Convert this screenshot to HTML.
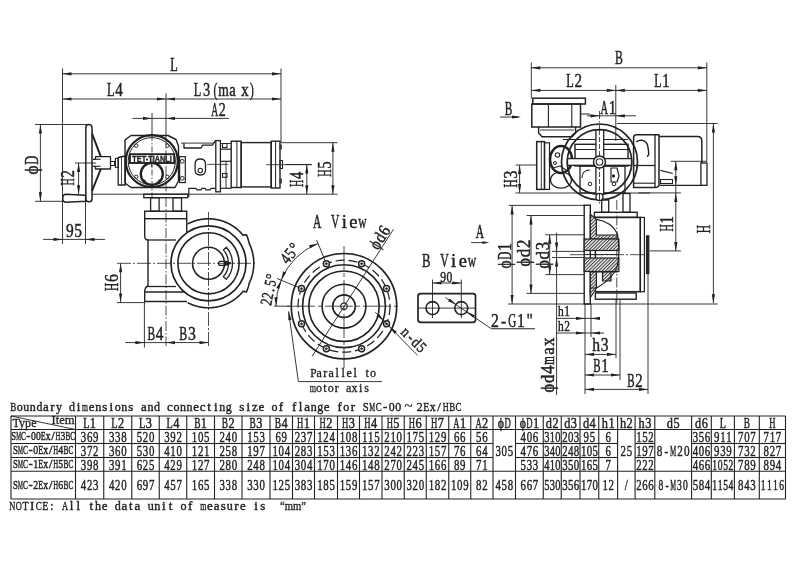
<!DOCTYPE html>
<html><head><meta charset="utf-8"><style>
html,body{margin:0;padding:0;background:#fff;width:800px;height:565px;overflow:hidden;}
svg{display:block;will-change:transform;}
</style></head><body>
<svg width="800" height="565" viewBox="0 0 800 565"><line x1="11.00" y1="416.00" x2="11.00" y2="499.00" stroke="#222" stroke-width="1.1"/>
<line x1="75.50" y1="416.00" x2="75.50" y2="499.00" stroke="#222" stroke-width="1.1"/>
<line x1="103.75" y1="416.00" x2="103.75" y2="499.00" stroke="#222" stroke-width="1.1"/>
<line x1="131.75" y1="416.00" x2="131.75" y2="499.00" stroke="#222" stroke-width="1.1"/>
<line x1="159.25" y1="416.00" x2="159.25" y2="499.00" stroke="#222" stroke-width="1.1"/>
<line x1="186.75" y1="416.00" x2="186.75" y2="499.00" stroke="#222" stroke-width="1.1"/>
<line x1="214.50" y1="416.00" x2="214.50" y2="499.00" stroke="#222" stroke-width="1.1"/>
<line x1="242.00" y1="416.00" x2="242.00" y2="499.00" stroke="#222" stroke-width="1.1"/>
<line x1="270.00" y1="416.00" x2="270.00" y2="499.00" stroke="#222" stroke-width="1.1"/>
<line x1="292.50" y1="416.00" x2="292.50" y2="499.00" stroke="#222" stroke-width="1.1"/>
<line x1="314.50" y1="416.00" x2="314.50" y2="499.00" stroke="#222" stroke-width="1.1"/>
<line x1="337.50" y1="416.00" x2="337.50" y2="499.00" stroke="#222" stroke-width="1.1"/>
<line x1="359.50" y1="416.00" x2="359.50" y2="499.00" stroke="#222" stroke-width="1.1"/>
<line x1="382.00" y1="416.00" x2="382.00" y2="499.00" stroke="#222" stroke-width="1.1"/>
<line x1="404.25" y1="416.00" x2="404.25" y2="499.00" stroke="#222" stroke-width="1.1"/>
<line x1="426.25" y1="416.00" x2="426.25" y2="499.00" stroke="#222" stroke-width="1.1"/>
<line x1="448.75" y1="416.00" x2="448.75" y2="499.00" stroke="#222" stroke-width="1.1"/>
<line x1="470.75" y1="416.00" x2="470.75" y2="499.00" stroke="#222" stroke-width="1.1"/>
<line x1="493.00" y1="416.00" x2="493.00" y2="499.00" stroke="#222" stroke-width="1.1"/>
<line x1="515.50" y1="416.00" x2="515.50" y2="499.00" stroke="#222" stroke-width="1.1"/>
<line x1="543.25" y1="416.00" x2="543.25" y2="499.00" stroke="#222" stroke-width="1.1"/>
<line x1="561.25" y1="416.00" x2="561.25" y2="499.00" stroke="#222" stroke-width="1.1"/>
<line x1="580.00" y1="416.00" x2="580.00" y2="499.00" stroke="#222" stroke-width="1.1"/>
<line x1="598.75" y1="416.00" x2="598.75" y2="499.00" stroke="#222" stroke-width="1.1"/>
<line x1="617.60" y1="416.00" x2="617.60" y2="499.00" stroke="#222" stroke-width="1.1"/>
<line x1="635.10" y1="416.00" x2="635.10" y2="499.00" stroke="#222" stroke-width="1.1"/>
<line x1="654.80" y1="416.00" x2="654.80" y2="499.00" stroke="#222" stroke-width="1.1"/>
<line x1="691.60" y1="416.00" x2="691.60" y2="499.00" stroke="#222" stroke-width="1.1"/>
<line x1="711.30" y1="416.00" x2="711.30" y2="499.00" stroke="#222" stroke-width="1.1"/>
<line x1="734.40" y1="416.00" x2="734.40" y2="499.00" stroke="#222" stroke-width="1.1"/>
<line x1="759.30" y1="416.00" x2="759.30" y2="499.00" stroke="#222" stroke-width="1.1"/>
<line x1="785.50" y1="416.00" x2="785.50" y2="499.00" stroke="#222" stroke-width="1.1"/>
<line x1="11.00" y1="416.00" x2="785.50" y2="416.00" stroke="#222" stroke-width="1.1"/>
<line x1="11.00" y1="429.50" x2="785.50" y2="429.50" stroke="#222" stroke-width="1.1"/>
<line x1="11.00" y1="499.00" x2="785.50" y2="499.00" stroke="#222" stroke-width="1.1"/>
<line x1="11.00" y1="471.25" x2="785.50" y2="471.25" stroke="#222" stroke-width="1.1"/>
<line x1="11.00" y1="443.50" x2="75.50" y2="443.50" stroke="#222" stroke-width="1.1"/>
<line x1="75.50" y1="443.50" x2="103.75" y2="443.50" stroke="#222" stroke-width="1.1"/>
<line x1="103.75" y1="443.50" x2="131.75" y2="443.50" stroke="#222" stroke-width="1.1"/>
<line x1="131.75" y1="443.50" x2="159.25" y2="443.50" stroke="#222" stroke-width="1.1"/>
<line x1="159.25" y1="443.50" x2="186.75" y2="443.50" stroke="#222" stroke-width="1.1"/>
<line x1="186.75" y1="443.50" x2="214.50" y2="443.50" stroke="#222" stroke-width="1.1"/>
<line x1="214.50" y1="443.50" x2="242.00" y2="443.50" stroke="#222" stroke-width="1.1"/>
<line x1="242.00" y1="443.50" x2="270.00" y2="443.50" stroke="#222" stroke-width="1.1"/>
<line x1="270.00" y1="443.50" x2="292.50" y2="443.50" stroke="#222" stroke-width="1.1"/>
<line x1="292.50" y1="443.50" x2="314.50" y2="443.50" stroke="#222" stroke-width="1.1"/>
<line x1="314.50" y1="443.50" x2="337.50" y2="443.50" stroke="#222" stroke-width="1.1"/>
<line x1="337.50" y1="443.50" x2="359.50" y2="443.50" stroke="#222" stroke-width="1.1"/>
<line x1="359.50" y1="443.50" x2="382.00" y2="443.50" stroke="#222" stroke-width="1.1"/>
<line x1="382.00" y1="443.50" x2="404.25" y2="443.50" stroke="#222" stroke-width="1.1"/>
<line x1="404.25" y1="443.50" x2="426.25" y2="443.50" stroke="#222" stroke-width="1.1"/>
<line x1="426.25" y1="443.50" x2="448.75" y2="443.50" stroke="#222" stroke-width="1.1"/>
<line x1="448.75" y1="443.50" x2="470.75" y2="443.50" stroke="#222" stroke-width="1.1"/>
<line x1="470.75" y1="443.50" x2="493.00" y2="443.50" stroke="#222" stroke-width="1.1"/>
<line x1="515.50" y1="443.50" x2="543.25" y2="443.50" stroke="#222" stroke-width="1.1"/>
<line x1="543.25" y1="443.50" x2="561.25" y2="443.50" stroke="#222" stroke-width="1.1"/>
<line x1="561.25" y1="443.50" x2="580.00" y2="443.50" stroke="#222" stroke-width="1.1"/>
<line x1="580.00" y1="443.50" x2="598.75" y2="443.50" stroke="#222" stroke-width="1.1"/>
<line x1="598.75" y1="443.50" x2="617.60" y2="443.50" stroke="#222" stroke-width="1.1"/>
<line x1="635.10" y1="443.50" x2="654.80" y2="443.50" stroke="#222" stroke-width="1.1"/>
<line x1="691.60" y1="443.50" x2="711.30" y2="443.50" stroke="#222" stroke-width="1.1"/>
<line x1="711.30" y1="443.50" x2="734.40" y2="443.50" stroke="#222" stroke-width="1.1"/>
<line x1="734.40" y1="443.50" x2="759.30" y2="443.50" stroke="#222" stroke-width="1.1"/>
<line x1="759.30" y1="443.50" x2="785.50" y2="443.50" stroke="#222" stroke-width="1.1"/>
<line x1="11.00" y1="457.50" x2="75.50" y2="457.50" stroke="#222" stroke-width="1.1"/>
<line x1="75.50" y1="457.50" x2="103.75" y2="457.50" stroke="#222" stroke-width="1.1"/>
<line x1="103.75" y1="457.50" x2="131.75" y2="457.50" stroke="#222" stroke-width="1.1"/>
<line x1="131.75" y1="457.50" x2="159.25" y2="457.50" stroke="#222" stroke-width="1.1"/>
<line x1="159.25" y1="457.50" x2="186.75" y2="457.50" stroke="#222" stroke-width="1.1"/>
<line x1="186.75" y1="457.50" x2="214.50" y2="457.50" stroke="#222" stroke-width="1.1"/>
<line x1="214.50" y1="457.50" x2="242.00" y2="457.50" stroke="#222" stroke-width="1.1"/>
<line x1="242.00" y1="457.50" x2="270.00" y2="457.50" stroke="#222" stroke-width="1.1"/>
<line x1="270.00" y1="457.50" x2="292.50" y2="457.50" stroke="#222" stroke-width="1.1"/>
<line x1="292.50" y1="457.50" x2="314.50" y2="457.50" stroke="#222" stroke-width="1.1"/>
<line x1="314.50" y1="457.50" x2="337.50" y2="457.50" stroke="#222" stroke-width="1.1"/>
<line x1="337.50" y1="457.50" x2="359.50" y2="457.50" stroke="#222" stroke-width="1.1"/>
<line x1="359.50" y1="457.50" x2="382.00" y2="457.50" stroke="#222" stroke-width="1.1"/>
<line x1="382.00" y1="457.50" x2="404.25" y2="457.50" stroke="#222" stroke-width="1.1"/>
<line x1="404.25" y1="457.50" x2="426.25" y2="457.50" stroke="#222" stroke-width="1.1"/>
<line x1="426.25" y1="457.50" x2="448.75" y2="457.50" stroke="#222" stroke-width="1.1"/>
<line x1="448.75" y1="457.50" x2="470.75" y2="457.50" stroke="#222" stroke-width="1.1"/>
<line x1="470.75" y1="457.50" x2="493.00" y2="457.50" stroke="#222" stroke-width="1.1"/>
<line x1="515.50" y1="457.50" x2="543.25" y2="457.50" stroke="#222" stroke-width="1.1"/>
<line x1="543.25" y1="457.50" x2="561.25" y2="457.50" stroke="#222" stroke-width="1.1"/>
<line x1="561.25" y1="457.50" x2="580.00" y2="457.50" stroke="#222" stroke-width="1.1"/>
<line x1="580.00" y1="457.50" x2="598.75" y2="457.50" stroke="#222" stroke-width="1.1"/>
<line x1="598.75" y1="457.50" x2="617.60" y2="457.50" stroke="#222" stroke-width="1.1"/>
<line x1="635.10" y1="457.50" x2="654.80" y2="457.50" stroke="#222" stroke-width="1.1"/>
<line x1="691.60" y1="457.50" x2="711.30" y2="457.50" stroke="#222" stroke-width="1.1"/>
<line x1="711.30" y1="457.50" x2="734.40" y2="457.50" stroke="#222" stroke-width="1.1"/>
<line x1="734.40" y1="457.50" x2="759.30" y2="457.50" stroke="#222" stroke-width="1.1"/>
<line x1="759.30" y1="457.50" x2="785.50" y2="457.50" stroke="#222" stroke-width="1.1"/>
<line x1="11.00" y1="416.00" x2="75.50" y2="429.50" stroke="#222" stroke-width="0.9"/>
<g transform="translate(89.62 428.00)" font-family='"Liberation Serif", serif' font-size="14.5" fill="#222" stroke="#222" stroke-width="0.45"><text transform="translate(-3.30 0) scale(0.708 1)" text-anchor="middle">L</text><text transform="translate(3.30 0) scale(0.850 1)" text-anchor="middle">1</text></g>
<g transform="translate(117.75 428.00)" font-family='"Liberation Serif", serif' font-size="14.5" fill="#222" stroke="#222" stroke-width="0.45"><text transform="translate(-3.30 0) scale(0.708 1)" text-anchor="middle">L</text><text transform="translate(3.30 0) scale(0.850 1)" text-anchor="middle">2</text></g>
<g transform="translate(145.50 428.00)" font-family='"Liberation Serif", serif' font-size="14.5" fill="#222" stroke="#222" stroke-width="0.45"><text transform="translate(-3.30 0) scale(0.708 1)" text-anchor="middle">L</text><text transform="translate(3.30 0) scale(0.850 1)" text-anchor="middle">3</text></g>
<g transform="translate(173.00 428.00)" font-family='"Liberation Serif", serif' font-size="14.5" fill="#222" stroke="#222" stroke-width="0.45"><text transform="translate(-3.30 0) scale(0.708 1)" text-anchor="middle">L</text><text transform="translate(3.30 0) scale(0.850 1)" text-anchor="middle">4</text></g>
<g transform="translate(200.62 428.00)" font-family='"Liberation Serif", serif' font-size="14.5" fill="#222" stroke="#222" stroke-width="0.45"><text transform="translate(-3.30 0) scale(0.648 1)" text-anchor="middle">B</text><text transform="translate(3.30 0) scale(0.850 1)" text-anchor="middle">1</text></g>
<g transform="translate(228.25 428.00)" font-family='"Liberation Serif", serif' font-size="14.5" fill="#222" stroke="#222" stroke-width="0.45"><text transform="translate(-3.30 0) scale(0.648 1)" text-anchor="middle">B</text><text transform="translate(3.30 0) scale(0.850 1)" text-anchor="middle">2</text></g>
<g transform="translate(256.00 428.00)" font-family='"Liberation Serif", serif' font-size="14.5" fill="#222" stroke="#222" stroke-width="0.45"><text transform="translate(-3.30 0) scale(0.648 1)" text-anchor="middle">B</text><text transform="translate(3.30 0) scale(0.850 1)" text-anchor="middle">3</text></g>
<g transform="translate(281.25 428.00)" font-family='"Liberation Serif", serif' font-size="14.5" fill="#222" stroke="#222" stroke-width="0.45"><text transform="translate(-3.30 0) scale(0.648 1)" text-anchor="middle">B</text><text transform="translate(3.30 0) scale(0.850 1)" text-anchor="middle">4</text></g>
<g transform="translate(303.50 428.00)" font-family='"Liberation Serif", serif' font-size="14.5" fill="#222" stroke="#222" stroke-width="0.45"><text transform="translate(-3.30 0) scale(0.599 1)" text-anchor="middle">H</text><text transform="translate(3.30 0) scale(0.850 1)" text-anchor="middle">1</text></g>
<g transform="translate(326.00 428.00)" font-family='"Liberation Serif", serif' font-size="14.5" fill="#222" stroke="#222" stroke-width="0.45"><text transform="translate(-3.30 0) scale(0.599 1)" text-anchor="middle">H</text><text transform="translate(3.30 0) scale(0.850 1)" text-anchor="middle">2</text></g>
<g transform="translate(348.50 428.00)" font-family='"Liberation Serif", serif' font-size="14.5" fill="#222" stroke="#222" stroke-width="0.45"><text transform="translate(-3.30 0) scale(0.599 1)" text-anchor="middle">H</text><text transform="translate(3.30 0) scale(0.850 1)" text-anchor="middle">3</text></g>
<g transform="translate(370.75 428.00)" font-family='"Liberation Serif", serif' font-size="14.5" fill="#222" stroke="#222" stroke-width="0.45"><text transform="translate(-3.30 0) scale(0.599 1)" text-anchor="middle">H</text><text transform="translate(3.30 0) scale(0.850 1)" text-anchor="middle">4</text></g>
<g transform="translate(393.12 428.00)" font-family='"Liberation Serif", serif' font-size="14.5" fill="#222" stroke="#222" stroke-width="0.45"><text transform="translate(-3.30 0) scale(0.599 1)" text-anchor="middle">H</text><text transform="translate(3.30 0) scale(0.850 1)" text-anchor="middle">5</text></g>
<g transform="translate(415.25 428.00)" font-family='"Liberation Serif", serif' font-size="14.5" fill="#222" stroke="#222" stroke-width="0.45"><text transform="translate(-3.30 0) scale(0.599 1)" text-anchor="middle">H</text><text transform="translate(3.30 0) scale(0.850 1)" text-anchor="middle">6</text></g>
<g transform="translate(437.50 428.00)" font-family='"Liberation Serif", serif' font-size="14.5" fill="#222" stroke="#222" stroke-width="0.45"><text transform="translate(-3.30 0) scale(0.599 1)" text-anchor="middle">H</text><text transform="translate(3.30 0) scale(0.850 1)" text-anchor="middle">7</text></g>
<g transform="translate(459.75 428.00)" font-family='"Liberation Serif", serif' font-size="14.5" fill="#222" stroke="#222" stroke-width="0.45"><text transform="translate(-3.30 0) scale(0.599 1)" text-anchor="middle">A</text><text transform="translate(3.30 0) scale(0.850 1)" text-anchor="middle">1</text></g>
<g transform="translate(481.88 428.00)" font-family='"Liberation Serif", serif' font-size="14.5" fill="#222" stroke="#222" stroke-width="0.45"><text transform="translate(-3.30 0) scale(0.599 1)" text-anchor="middle">A</text><text transform="translate(3.30 0) scale(0.850 1)" text-anchor="middle">2</text></g>
<g transform="translate(504.25 428.00)" font-family='"Liberation Serif", serif' font-size="14.5" fill="#222" stroke="#222" stroke-width="0.45"><text transform="translate(-3.30 0) scale(0.822 1)" text-anchor="middle">ϕ</text><text transform="translate(3.30 0) scale(0.599 1)" text-anchor="middle">D</text></g>
<g transform="translate(529.38 428.00)" font-family='"Liberation Serif", serif' font-size="14.5" fill="#222" stroke="#222" stroke-width="0.45"><text transform="translate(-6.60 0) scale(0.822 1)" text-anchor="middle">ϕ</text><text transform="translate(0.00 0) scale(0.599 1)" text-anchor="middle">D</text><text transform="translate(6.60 0) scale(0.850 1)" text-anchor="middle">1</text></g>
<g transform="translate(552.25 428.00)" font-family='"Liberation Serif", serif' font-size="14.5" fill="#222" stroke="#222" stroke-width="0.45"><text transform="translate(-3.30 0) scale(0.850 1)" text-anchor="middle">d</text><text transform="translate(3.30 0) scale(0.850 1)" text-anchor="middle">2</text></g>
<g transform="translate(570.62 428.00)" font-family='"Liberation Serif", serif' font-size="14.5" fill="#222" stroke="#222" stroke-width="0.45"><text transform="translate(-3.30 0) scale(0.850 1)" text-anchor="middle">d</text><text transform="translate(3.30 0) scale(0.850 1)" text-anchor="middle">3</text></g>
<g transform="translate(589.38 428.00)" font-family='"Liberation Serif", serif' font-size="14.5" fill="#222" stroke="#222" stroke-width="0.45"><text transform="translate(-3.30 0) scale(0.850 1)" text-anchor="middle">d</text><text transform="translate(3.30 0) scale(0.850 1)" text-anchor="middle">4</text></g>
<g transform="translate(608.17 428.00)" font-family='"Liberation Serif", serif' font-size="14.5" fill="#222" stroke="#222" stroke-width="0.45"><text transform="translate(-3.30 0) scale(0.850 1)" text-anchor="middle">h</text><text transform="translate(3.30 0) scale(0.850 1)" text-anchor="middle">1</text></g>
<g transform="translate(626.35 428.00)" font-family='"Liberation Serif", serif' font-size="14.5" fill="#222" stroke="#222" stroke-width="0.45"><text transform="translate(-3.30 0) scale(0.850 1)" text-anchor="middle">h</text><text transform="translate(3.30 0) scale(0.850 1)" text-anchor="middle">2</text></g>
<g transform="translate(644.95 428.00)" font-family='"Liberation Serif", serif' font-size="14.5" fill="#222" stroke="#222" stroke-width="0.45"><text transform="translate(-3.30 0) scale(0.850 1)" text-anchor="middle">h</text><text transform="translate(3.30 0) scale(0.850 1)" text-anchor="middle">3</text></g>
<g transform="translate(673.20 428.00)" font-family='"Liberation Serif", serif' font-size="14.5" fill="#222" stroke="#222" stroke-width="0.45"><text transform="translate(-3.30 0) scale(0.850 1)" text-anchor="middle">d</text><text transform="translate(3.30 0) scale(0.850 1)" text-anchor="middle">5</text></g>
<g transform="translate(701.45 428.00)" font-family='"Liberation Serif", serif' font-size="14.5" fill="#222" stroke="#222" stroke-width="0.45"><text transform="translate(-3.30 0) scale(0.850 1)" text-anchor="middle">d</text><text transform="translate(3.30 0) scale(0.850 1)" text-anchor="middle">6</text></g>
<g transform="translate(722.85 428.00)" font-family='"Liberation Serif", serif' font-size="14.5" fill="#222" stroke="#222" stroke-width="0.45"><text transform="translate(0.00 0) scale(0.708 1)" text-anchor="middle">L</text></g>
<g transform="translate(746.85 428.00)" font-family='"Liberation Serif", serif' font-size="14.5" fill="#222" stroke="#222" stroke-width="0.45"><text transform="translate(0.00 0) scale(0.648 1)" text-anchor="middle">B</text></g>
<g transform="translate(772.40 428.00)" font-family='"Liberation Serif", serif' font-size="14.5" fill="#222" stroke="#222" stroke-width="0.45"><text transform="translate(0.00 0) scale(0.599 1)" text-anchor="middle">H</text></g>
<g transform="translate(89.62 441.50)" font-family='"Liberation Serif", serif' font-size="15.5" fill="#222" stroke="#222" stroke-width="0.45"><text transform="translate(-6.10 0) scale(0.700 1)" text-anchor="middle">3</text><text transform="translate(0.00 0) scale(0.700 1)" text-anchor="middle">6</text><text transform="translate(6.10 0) scale(0.700 1)" text-anchor="middle">9</text></g>
<g transform="translate(117.75 441.50)" font-family='"Liberation Serif", serif' font-size="15.5" fill="#222" stroke="#222" stroke-width="0.45"><text transform="translate(-6.10 0) scale(0.700 1)" text-anchor="middle">3</text><text transform="translate(0.00 0) scale(0.700 1)" text-anchor="middle">3</text><text transform="translate(6.10 0) scale(0.700 1)" text-anchor="middle">8</text></g>
<g transform="translate(145.50 441.50)" font-family='"Liberation Serif", serif' font-size="15.5" fill="#222" stroke="#222" stroke-width="0.45"><text transform="translate(-6.10 0) scale(0.700 1)" text-anchor="middle">5</text><text transform="translate(0.00 0) scale(0.700 1)" text-anchor="middle">2</text><text transform="translate(6.10 0) scale(0.700 1)" text-anchor="middle">0</text></g>
<g transform="translate(173.00 441.50)" font-family='"Liberation Serif", serif' font-size="15.5" fill="#222" stroke="#222" stroke-width="0.45"><text transform="translate(-6.10 0) scale(0.700 1)" text-anchor="middle">3</text><text transform="translate(0.00 0) scale(0.700 1)" text-anchor="middle">9</text><text transform="translate(6.10 0) scale(0.700 1)" text-anchor="middle">2</text></g>
<g transform="translate(200.62 441.50)" font-family='"Liberation Serif", serif' font-size="15.5" fill="#222" stroke="#222" stroke-width="0.45"><text transform="translate(-6.10 0) scale(0.700 1)" text-anchor="middle">1</text><text transform="translate(0.00 0) scale(0.700 1)" text-anchor="middle">0</text><text transform="translate(6.10 0) scale(0.700 1)" text-anchor="middle">5</text></g>
<g transform="translate(228.25 441.50)" font-family='"Liberation Serif", serif' font-size="15.5" fill="#222" stroke="#222" stroke-width="0.45"><text transform="translate(-6.10 0) scale(0.700 1)" text-anchor="middle">2</text><text transform="translate(0.00 0) scale(0.700 1)" text-anchor="middle">4</text><text transform="translate(6.10 0) scale(0.700 1)" text-anchor="middle">0</text></g>
<g transform="translate(256.00 441.50)" font-family='"Liberation Serif", serif' font-size="15.5" fill="#222" stroke="#222" stroke-width="0.45"><text transform="translate(-6.10 0) scale(0.700 1)" text-anchor="middle">1</text><text transform="translate(0.00 0) scale(0.700 1)" text-anchor="middle">5</text><text transform="translate(6.10 0) scale(0.700 1)" text-anchor="middle">3</text></g>
<g transform="translate(281.25 441.50)" font-family='"Liberation Serif", serif' font-size="15.5" fill="#222" stroke="#222" stroke-width="0.45"><text transform="translate(-3.05 0) scale(0.700 1)" text-anchor="middle">6</text><text transform="translate(3.05 0) scale(0.700 1)" text-anchor="middle">9</text></g>
<g transform="translate(303.50 441.50)" font-family='"Liberation Serif", serif' font-size="15.5" fill="#222" stroke="#222" stroke-width="0.45"><text transform="translate(-6.10 0) scale(0.700 1)" text-anchor="middle">2</text><text transform="translate(0.00 0) scale(0.700 1)" text-anchor="middle">3</text><text transform="translate(6.10 0) scale(0.700 1)" text-anchor="middle">7</text></g>
<g transform="translate(326.00 441.50)" font-family='"Liberation Serif", serif' font-size="15.5" fill="#222" stroke="#222" stroke-width="0.45"><text transform="translate(-6.10 0) scale(0.700 1)" text-anchor="middle">1</text><text transform="translate(0.00 0) scale(0.700 1)" text-anchor="middle">2</text><text transform="translate(6.10 0) scale(0.700 1)" text-anchor="middle">4</text></g>
<g transform="translate(348.50 441.50)" font-family='"Liberation Serif", serif' font-size="15.5" fill="#222" stroke="#222" stroke-width="0.45"><text transform="translate(-6.10 0) scale(0.700 1)" text-anchor="middle">1</text><text transform="translate(0.00 0) scale(0.700 1)" text-anchor="middle">0</text><text transform="translate(6.10 0) scale(0.700 1)" text-anchor="middle">8</text></g>
<g transform="translate(370.75 441.50)" font-family='"Liberation Serif", serif' font-size="15.5" fill="#222" stroke="#222" stroke-width="0.45"><text transform="translate(-6.10 0) scale(0.700 1)" text-anchor="middle">1</text><text transform="translate(0.00 0) scale(0.700 1)" text-anchor="middle">1</text><text transform="translate(6.10 0) scale(0.700 1)" text-anchor="middle">5</text></g>
<g transform="translate(393.12 441.50)" font-family='"Liberation Serif", serif' font-size="15.5" fill="#222" stroke="#222" stroke-width="0.45"><text transform="translate(-6.10 0) scale(0.700 1)" text-anchor="middle">2</text><text transform="translate(0.00 0) scale(0.700 1)" text-anchor="middle">1</text><text transform="translate(6.10 0) scale(0.700 1)" text-anchor="middle">0</text></g>
<g transform="translate(415.25 441.50)" font-family='"Liberation Serif", serif' font-size="15.5" fill="#222" stroke="#222" stroke-width="0.45"><text transform="translate(-6.10 0) scale(0.700 1)" text-anchor="middle">1</text><text transform="translate(0.00 0) scale(0.700 1)" text-anchor="middle">7</text><text transform="translate(6.10 0) scale(0.700 1)" text-anchor="middle">5</text></g>
<g transform="translate(437.50 441.50)" font-family='"Liberation Serif", serif' font-size="15.5" fill="#222" stroke="#222" stroke-width="0.45"><text transform="translate(-6.10 0) scale(0.700 1)" text-anchor="middle">1</text><text transform="translate(0.00 0) scale(0.700 1)" text-anchor="middle">2</text><text transform="translate(6.10 0) scale(0.700 1)" text-anchor="middle">9</text></g>
<g transform="translate(459.75 441.50)" font-family='"Liberation Serif", serif' font-size="15.5" fill="#222" stroke="#222" stroke-width="0.45"><text transform="translate(-3.05 0) scale(0.700 1)" text-anchor="middle">6</text><text transform="translate(3.05 0) scale(0.700 1)" text-anchor="middle">6</text></g>
<g transform="translate(481.88 441.50)" font-family='"Liberation Serif", serif' font-size="15.5" fill="#222" stroke="#222" stroke-width="0.45"><text transform="translate(-3.05 0) scale(0.700 1)" text-anchor="middle">5</text><text transform="translate(3.05 0) scale(0.700 1)" text-anchor="middle">6</text></g>
<g transform="translate(529.38 441.50)" font-family='"Liberation Serif", serif' font-size="15.5" fill="#222" stroke="#222" stroke-width="0.45"><text transform="translate(-6.10 0) scale(0.700 1)" text-anchor="middle">4</text><text transform="translate(0.00 0) scale(0.700 1)" text-anchor="middle">0</text><text transform="translate(6.10 0) scale(0.700 1)" text-anchor="middle">6</text></g>
<g transform="translate(552.25 441.50)" font-family='"Liberation Serif", serif' font-size="15.5" fill="#222" stroke="#222" stroke-width="0.45"><text transform="translate(-5.50 0) scale(0.674 1)" text-anchor="middle">3</text><text transform="translate(0.00 0) scale(0.674 1)" text-anchor="middle">1</text><text transform="translate(5.50 0) scale(0.674 1)" text-anchor="middle">0</text></g>
<g transform="translate(570.62 441.50)" font-family='"Liberation Serif", serif' font-size="15.5" fill="#222" stroke="#222" stroke-width="0.45"><text transform="translate(-5.75 0) scale(0.700 1)" text-anchor="middle">2</text><text transform="translate(0.00 0) scale(0.700 1)" text-anchor="middle">0</text><text transform="translate(5.75 0) scale(0.700 1)" text-anchor="middle">3</text></g>
<g transform="translate(589.38 441.50)" font-family='"Liberation Serif", serif' font-size="15.5" fill="#222" stroke="#222" stroke-width="0.45"><text transform="translate(-3.05 0) scale(0.700 1)" text-anchor="middle">9</text><text transform="translate(3.05 0) scale(0.700 1)" text-anchor="middle">5</text></g>
<g transform="translate(608.17 441.50)" font-family='"Liberation Serif", serif' font-size="15.5" fill="#222" stroke="#222" stroke-width="0.45"><text transform="translate(0.00 0) scale(0.700 1)" text-anchor="middle">6</text></g>
<g transform="translate(644.95 441.50)" font-family='"Liberation Serif", serif' font-size="15.5" fill="#222" stroke="#222" stroke-width="0.45"><text transform="translate(-6.07 0) scale(0.700 1)" text-anchor="middle">1</text><text transform="translate(0.00 0) scale(0.700 1)" text-anchor="middle">5</text><text transform="translate(6.07 0) scale(0.700 1)" text-anchor="middle">2</text></g>
<g transform="translate(701.45 441.50)" font-family='"Liberation Serif", serif' font-size="15.5" fill="#222" stroke="#222" stroke-width="0.45"><text transform="translate(-6.07 0) scale(0.700 1)" text-anchor="middle">3</text><text transform="translate(0.00 0) scale(0.700 1)" text-anchor="middle">5</text><text transform="translate(6.07 0) scale(0.700 1)" text-anchor="middle">6</text></g>
<g transform="translate(722.85 441.50)" font-family='"Liberation Serif", serif' font-size="15.5" fill="#222" stroke="#222" stroke-width="0.45"><text transform="translate(-6.10 0) scale(0.700 1)" text-anchor="middle">9</text><text transform="translate(0.00 0) scale(0.700 1)" text-anchor="middle">1</text><text transform="translate(6.10 0) scale(0.700 1)" text-anchor="middle">1</text></g>
<g transform="translate(746.85 441.50)" font-family='"Liberation Serif", serif' font-size="15.5" fill="#222" stroke="#222" stroke-width="0.45"><text transform="translate(-6.10 0) scale(0.700 1)" text-anchor="middle">7</text><text transform="translate(0.00 0) scale(0.700 1)" text-anchor="middle">0</text><text transform="translate(6.10 0) scale(0.700 1)" text-anchor="middle">7</text></g>
<g transform="translate(772.40 441.50)" font-family='"Liberation Serif", serif' font-size="15.5" fill="#222" stroke="#222" stroke-width="0.45"><text transform="translate(-6.10 0) scale(0.700 1)" text-anchor="middle">7</text><text transform="translate(0.00 0) scale(0.700 1)" text-anchor="middle">1</text><text transform="translate(6.10 0) scale(0.700 1)" text-anchor="middle">7</text></g>
<g transform="translate(89.62 455.50)" font-family='"Liberation Serif", serif' font-size="15.5" fill="#222" stroke="#222" stroke-width="0.45"><text transform="translate(-6.10 0) scale(0.700 1)" text-anchor="middle">3</text><text transform="translate(0.00 0) scale(0.700 1)" text-anchor="middle">7</text><text transform="translate(6.10 0) scale(0.700 1)" text-anchor="middle">2</text></g>
<g transform="translate(117.75 455.50)" font-family='"Liberation Serif", serif' font-size="15.5" fill="#222" stroke="#222" stroke-width="0.45"><text transform="translate(-6.10 0) scale(0.700 1)" text-anchor="middle">3</text><text transform="translate(0.00 0) scale(0.700 1)" text-anchor="middle">6</text><text transform="translate(6.10 0) scale(0.700 1)" text-anchor="middle">0</text></g>
<g transform="translate(145.50 455.50)" font-family='"Liberation Serif", serif' font-size="15.5" fill="#222" stroke="#222" stroke-width="0.45"><text transform="translate(-6.10 0) scale(0.700 1)" text-anchor="middle">5</text><text transform="translate(0.00 0) scale(0.700 1)" text-anchor="middle">3</text><text transform="translate(6.10 0) scale(0.700 1)" text-anchor="middle">0</text></g>
<g transform="translate(173.00 455.50)" font-family='"Liberation Serif", serif' font-size="15.5" fill="#222" stroke="#222" stroke-width="0.45"><text transform="translate(-6.10 0) scale(0.700 1)" text-anchor="middle">4</text><text transform="translate(0.00 0) scale(0.700 1)" text-anchor="middle">1</text><text transform="translate(6.10 0) scale(0.700 1)" text-anchor="middle">0</text></g>
<g transform="translate(200.62 455.50)" font-family='"Liberation Serif", serif' font-size="15.5" fill="#222" stroke="#222" stroke-width="0.45"><text transform="translate(-6.10 0) scale(0.700 1)" text-anchor="middle">1</text><text transform="translate(0.00 0) scale(0.700 1)" text-anchor="middle">2</text><text transform="translate(6.10 0) scale(0.700 1)" text-anchor="middle">1</text></g>
<g transform="translate(228.25 455.50)" font-family='"Liberation Serif", serif' font-size="15.5" fill="#222" stroke="#222" stroke-width="0.45"><text transform="translate(-6.10 0) scale(0.700 1)" text-anchor="middle">2</text><text transform="translate(0.00 0) scale(0.700 1)" text-anchor="middle">5</text><text transform="translate(6.10 0) scale(0.700 1)" text-anchor="middle">8</text></g>
<g transform="translate(256.00 455.50)" font-family='"Liberation Serif", serif' font-size="15.5" fill="#222" stroke="#222" stroke-width="0.45"><text transform="translate(-6.10 0) scale(0.700 1)" text-anchor="middle">1</text><text transform="translate(0.00 0) scale(0.700 1)" text-anchor="middle">9</text><text transform="translate(6.10 0) scale(0.700 1)" text-anchor="middle">7</text></g>
<g transform="translate(281.25 455.50)" font-family='"Liberation Serif", serif' font-size="15.5" fill="#222" stroke="#222" stroke-width="0.45"><text transform="translate(-6.10 0) scale(0.700 1)" text-anchor="middle">1</text><text transform="translate(0.00 0) scale(0.700 1)" text-anchor="middle">0</text><text transform="translate(6.10 0) scale(0.700 1)" text-anchor="middle">4</text></g>
<g transform="translate(303.50 455.50)" font-family='"Liberation Serif", serif' font-size="15.5" fill="#222" stroke="#222" stroke-width="0.45"><text transform="translate(-6.10 0) scale(0.700 1)" text-anchor="middle">2</text><text transform="translate(0.00 0) scale(0.700 1)" text-anchor="middle">8</text><text transform="translate(6.10 0) scale(0.700 1)" text-anchor="middle">3</text></g>
<g transform="translate(326.00 455.50)" font-family='"Liberation Serif", serif' font-size="15.5" fill="#222" stroke="#222" stroke-width="0.45"><text transform="translate(-6.10 0) scale(0.700 1)" text-anchor="middle">1</text><text transform="translate(0.00 0) scale(0.700 1)" text-anchor="middle">5</text><text transform="translate(6.10 0) scale(0.700 1)" text-anchor="middle">3</text></g>
<g transform="translate(348.50 455.50)" font-family='"Liberation Serif", serif' font-size="15.5" fill="#222" stroke="#222" stroke-width="0.45"><text transform="translate(-6.10 0) scale(0.700 1)" text-anchor="middle">1</text><text transform="translate(0.00 0) scale(0.700 1)" text-anchor="middle">3</text><text transform="translate(6.10 0) scale(0.700 1)" text-anchor="middle">6</text></g>
<g transform="translate(370.75 455.50)" font-family='"Liberation Serif", serif' font-size="15.5" fill="#222" stroke="#222" stroke-width="0.45"><text transform="translate(-6.10 0) scale(0.700 1)" text-anchor="middle">1</text><text transform="translate(0.00 0) scale(0.700 1)" text-anchor="middle">3</text><text transform="translate(6.10 0) scale(0.700 1)" text-anchor="middle">2</text></g>
<g transform="translate(393.12 455.50)" font-family='"Liberation Serif", serif' font-size="15.5" fill="#222" stroke="#222" stroke-width="0.45"><text transform="translate(-6.10 0) scale(0.700 1)" text-anchor="middle">2</text><text transform="translate(0.00 0) scale(0.700 1)" text-anchor="middle">4</text><text transform="translate(6.10 0) scale(0.700 1)" text-anchor="middle">2</text></g>
<g transform="translate(415.25 455.50)" font-family='"Liberation Serif", serif' font-size="15.5" fill="#222" stroke="#222" stroke-width="0.45"><text transform="translate(-6.10 0) scale(0.700 1)" text-anchor="middle">2</text><text transform="translate(0.00 0) scale(0.700 1)" text-anchor="middle">2</text><text transform="translate(6.10 0) scale(0.700 1)" text-anchor="middle">3</text></g>
<g transform="translate(437.50 455.50)" font-family='"Liberation Serif", serif' font-size="15.5" fill="#222" stroke="#222" stroke-width="0.45"><text transform="translate(-6.10 0) scale(0.700 1)" text-anchor="middle">1</text><text transform="translate(0.00 0) scale(0.700 1)" text-anchor="middle">5</text><text transform="translate(6.10 0) scale(0.700 1)" text-anchor="middle">7</text></g>
<g transform="translate(459.75 455.50)" font-family='"Liberation Serif", serif' font-size="15.5" fill="#222" stroke="#222" stroke-width="0.45"><text transform="translate(-3.05 0) scale(0.700 1)" text-anchor="middle">7</text><text transform="translate(3.05 0) scale(0.700 1)" text-anchor="middle">6</text></g>
<g transform="translate(481.88 455.50)" font-family='"Liberation Serif", serif' font-size="15.5" fill="#222" stroke="#222" stroke-width="0.45"><text transform="translate(-3.05 0) scale(0.700 1)" text-anchor="middle">6</text><text transform="translate(3.05 0) scale(0.700 1)" text-anchor="middle">4</text></g>
<g transform="translate(529.38 455.50)" font-family='"Liberation Serif", serif' font-size="15.5" fill="#222" stroke="#222" stroke-width="0.45"><text transform="translate(-6.10 0) scale(0.700 1)" text-anchor="middle">4</text><text transform="translate(0.00 0) scale(0.700 1)" text-anchor="middle">7</text><text transform="translate(6.10 0) scale(0.700 1)" text-anchor="middle">6</text></g>
<g transform="translate(552.25 455.50)" font-family='"Liberation Serif", serif' font-size="15.5" fill="#222" stroke="#222" stroke-width="0.45"><text transform="translate(-5.50 0) scale(0.674 1)" text-anchor="middle">3</text><text transform="translate(0.00 0) scale(0.674 1)" text-anchor="middle">4</text><text transform="translate(5.50 0) scale(0.674 1)" text-anchor="middle">0</text></g>
<g transform="translate(570.62 455.50)" font-family='"Liberation Serif", serif' font-size="15.5" fill="#222" stroke="#222" stroke-width="0.45"><text transform="translate(-5.75 0) scale(0.700 1)" text-anchor="middle">2</text><text transform="translate(0.00 0) scale(0.700 1)" text-anchor="middle">4</text><text transform="translate(5.75 0) scale(0.700 1)" text-anchor="middle">8</text></g>
<g transform="translate(589.38 455.50)" font-family='"Liberation Serif", serif' font-size="15.5" fill="#222" stroke="#222" stroke-width="0.45"><text transform="translate(-5.75 0) scale(0.700 1)" text-anchor="middle">1</text><text transform="translate(0.00 0) scale(0.700 1)" text-anchor="middle">0</text><text transform="translate(5.75 0) scale(0.700 1)" text-anchor="middle">5</text></g>
<g transform="translate(608.17 455.50)" font-family='"Liberation Serif", serif' font-size="15.5" fill="#222" stroke="#222" stroke-width="0.45"><text transform="translate(0.00 0) scale(0.700 1)" text-anchor="middle">6</text></g>
<g transform="translate(644.95 455.50)" font-family='"Liberation Serif", serif' font-size="15.5" fill="#222" stroke="#222" stroke-width="0.45"><text transform="translate(-6.07 0) scale(0.700 1)" text-anchor="middle">1</text><text transform="translate(0.00 0) scale(0.700 1)" text-anchor="middle">9</text><text transform="translate(6.07 0) scale(0.700 1)" text-anchor="middle">7</text></g>
<g transform="translate(701.45 455.50)" font-family='"Liberation Serif", serif' font-size="15.5" fill="#222" stroke="#222" stroke-width="0.45"><text transform="translate(-6.07 0) scale(0.700 1)" text-anchor="middle">4</text><text transform="translate(0.00 0) scale(0.700 1)" text-anchor="middle">0</text><text transform="translate(6.07 0) scale(0.700 1)" text-anchor="middle">6</text></g>
<g transform="translate(722.85 455.50)" font-family='"Liberation Serif", serif' font-size="15.5" fill="#222" stroke="#222" stroke-width="0.45"><text transform="translate(-6.10 0) scale(0.700 1)" text-anchor="middle">9</text><text transform="translate(0.00 0) scale(0.700 1)" text-anchor="middle">3</text><text transform="translate(6.10 0) scale(0.700 1)" text-anchor="middle">9</text></g>
<g transform="translate(746.85 455.50)" font-family='"Liberation Serif", serif' font-size="15.5" fill="#222" stroke="#222" stroke-width="0.45"><text transform="translate(-6.10 0) scale(0.700 1)" text-anchor="middle">7</text><text transform="translate(0.00 0) scale(0.700 1)" text-anchor="middle">3</text><text transform="translate(6.10 0) scale(0.700 1)" text-anchor="middle">2</text></g>
<g transform="translate(772.40 455.50)" font-family='"Liberation Serif", serif' font-size="15.5" fill="#222" stroke="#222" stroke-width="0.45"><text transform="translate(-6.10 0) scale(0.700 1)" text-anchor="middle">8</text><text transform="translate(0.00 0) scale(0.700 1)" text-anchor="middle">2</text><text transform="translate(6.10 0) scale(0.700 1)" text-anchor="middle">7</text></g>
<g transform="translate(89.62 469.50)" font-family='"Liberation Serif", serif' font-size="15.5" fill="#222" stroke="#222" stroke-width="0.45"><text transform="translate(-6.10 0) scale(0.700 1)" text-anchor="middle">3</text><text transform="translate(0.00 0) scale(0.700 1)" text-anchor="middle">9</text><text transform="translate(6.10 0) scale(0.700 1)" text-anchor="middle">8</text></g>
<g transform="translate(117.75 469.50)" font-family='"Liberation Serif", serif' font-size="15.5" fill="#222" stroke="#222" stroke-width="0.45"><text transform="translate(-6.10 0) scale(0.700 1)" text-anchor="middle">3</text><text transform="translate(0.00 0) scale(0.700 1)" text-anchor="middle">9</text><text transform="translate(6.10 0) scale(0.700 1)" text-anchor="middle">1</text></g>
<g transform="translate(145.50 469.50)" font-family='"Liberation Serif", serif' font-size="15.5" fill="#222" stroke="#222" stroke-width="0.45"><text transform="translate(-6.10 0) scale(0.700 1)" text-anchor="middle">6</text><text transform="translate(0.00 0) scale(0.700 1)" text-anchor="middle">2</text><text transform="translate(6.10 0) scale(0.700 1)" text-anchor="middle">5</text></g>
<g transform="translate(173.00 469.50)" font-family='"Liberation Serif", serif' font-size="15.5" fill="#222" stroke="#222" stroke-width="0.45"><text transform="translate(-6.10 0) scale(0.700 1)" text-anchor="middle">4</text><text transform="translate(0.00 0) scale(0.700 1)" text-anchor="middle">2</text><text transform="translate(6.10 0) scale(0.700 1)" text-anchor="middle">9</text></g>
<g transform="translate(200.62 469.50)" font-family='"Liberation Serif", serif' font-size="15.5" fill="#222" stroke="#222" stroke-width="0.45"><text transform="translate(-6.10 0) scale(0.700 1)" text-anchor="middle">1</text><text transform="translate(0.00 0) scale(0.700 1)" text-anchor="middle">2</text><text transform="translate(6.10 0) scale(0.700 1)" text-anchor="middle">7</text></g>
<g transform="translate(228.25 469.50)" font-family='"Liberation Serif", serif' font-size="15.5" fill="#222" stroke="#222" stroke-width="0.45"><text transform="translate(-6.10 0) scale(0.700 1)" text-anchor="middle">2</text><text transform="translate(0.00 0) scale(0.700 1)" text-anchor="middle">8</text><text transform="translate(6.10 0) scale(0.700 1)" text-anchor="middle">0</text></g>
<g transform="translate(256.00 469.50)" font-family='"Liberation Serif", serif' font-size="15.5" fill="#222" stroke="#222" stroke-width="0.45"><text transform="translate(-6.10 0) scale(0.700 1)" text-anchor="middle">2</text><text transform="translate(0.00 0) scale(0.700 1)" text-anchor="middle">4</text><text transform="translate(6.10 0) scale(0.700 1)" text-anchor="middle">8</text></g>
<g transform="translate(281.25 469.50)" font-family='"Liberation Serif", serif' font-size="15.5" fill="#222" stroke="#222" stroke-width="0.45"><text transform="translate(-6.10 0) scale(0.700 1)" text-anchor="middle">1</text><text transform="translate(0.00 0) scale(0.700 1)" text-anchor="middle">0</text><text transform="translate(6.10 0) scale(0.700 1)" text-anchor="middle">4</text></g>
<g transform="translate(303.50 469.50)" font-family='"Liberation Serif", serif' font-size="15.5" fill="#222" stroke="#222" stroke-width="0.45"><text transform="translate(-6.10 0) scale(0.700 1)" text-anchor="middle">3</text><text transform="translate(0.00 0) scale(0.700 1)" text-anchor="middle">0</text><text transform="translate(6.10 0) scale(0.700 1)" text-anchor="middle">4</text></g>
<g transform="translate(326.00 469.50)" font-family='"Liberation Serif", serif' font-size="15.5" fill="#222" stroke="#222" stroke-width="0.45"><text transform="translate(-6.10 0) scale(0.700 1)" text-anchor="middle">1</text><text transform="translate(0.00 0) scale(0.700 1)" text-anchor="middle">7</text><text transform="translate(6.10 0) scale(0.700 1)" text-anchor="middle">0</text></g>
<g transform="translate(348.50 469.50)" font-family='"Liberation Serif", serif' font-size="15.5" fill="#222" stroke="#222" stroke-width="0.45"><text transform="translate(-6.10 0) scale(0.700 1)" text-anchor="middle">1</text><text transform="translate(0.00 0) scale(0.700 1)" text-anchor="middle">4</text><text transform="translate(6.10 0) scale(0.700 1)" text-anchor="middle">6</text></g>
<g transform="translate(370.75 469.50)" font-family='"Liberation Serif", serif' font-size="15.5" fill="#222" stroke="#222" stroke-width="0.45"><text transform="translate(-6.10 0) scale(0.700 1)" text-anchor="middle">1</text><text transform="translate(0.00 0) scale(0.700 1)" text-anchor="middle">4</text><text transform="translate(6.10 0) scale(0.700 1)" text-anchor="middle">8</text></g>
<g transform="translate(393.12 469.50)" font-family='"Liberation Serif", serif' font-size="15.5" fill="#222" stroke="#222" stroke-width="0.45"><text transform="translate(-6.10 0) scale(0.700 1)" text-anchor="middle">2</text><text transform="translate(0.00 0) scale(0.700 1)" text-anchor="middle">7</text><text transform="translate(6.10 0) scale(0.700 1)" text-anchor="middle">0</text></g>
<g transform="translate(415.25 469.50)" font-family='"Liberation Serif", serif' font-size="15.5" fill="#222" stroke="#222" stroke-width="0.45"><text transform="translate(-6.10 0) scale(0.700 1)" text-anchor="middle">2</text><text transform="translate(0.00 0) scale(0.700 1)" text-anchor="middle">4</text><text transform="translate(6.10 0) scale(0.700 1)" text-anchor="middle">5</text></g>
<g transform="translate(437.50 469.50)" font-family='"Liberation Serif", serif' font-size="15.5" fill="#222" stroke="#222" stroke-width="0.45"><text transform="translate(-6.10 0) scale(0.700 1)" text-anchor="middle">1</text><text transform="translate(0.00 0) scale(0.700 1)" text-anchor="middle">6</text><text transform="translate(6.10 0) scale(0.700 1)" text-anchor="middle">6</text></g>
<g transform="translate(459.75 469.50)" font-family='"Liberation Serif", serif' font-size="15.5" fill="#222" stroke="#222" stroke-width="0.45"><text transform="translate(-3.05 0) scale(0.700 1)" text-anchor="middle">8</text><text transform="translate(3.05 0) scale(0.700 1)" text-anchor="middle">9</text></g>
<g transform="translate(481.88 469.50)" font-family='"Liberation Serif", serif' font-size="15.5" fill="#222" stroke="#222" stroke-width="0.45"><text transform="translate(-3.05 0) scale(0.700 1)" text-anchor="middle">7</text><text transform="translate(3.05 0) scale(0.700 1)" text-anchor="middle">1</text></g>
<g transform="translate(529.38 469.50)" font-family='"Liberation Serif", serif' font-size="15.5" fill="#222" stroke="#222" stroke-width="0.45"><text transform="translate(-6.10 0) scale(0.700 1)" text-anchor="middle">5</text><text transform="translate(0.00 0) scale(0.700 1)" text-anchor="middle">3</text><text transform="translate(6.10 0) scale(0.700 1)" text-anchor="middle">3</text></g>
<g transform="translate(552.25 469.50)" font-family='"Liberation Serif", serif' font-size="15.5" fill="#222" stroke="#222" stroke-width="0.45"><text transform="translate(-5.50 0) scale(0.674 1)" text-anchor="middle">4</text><text transform="translate(0.00 0) scale(0.674 1)" text-anchor="middle">1</text><text transform="translate(5.50 0) scale(0.674 1)" text-anchor="middle">0</text></g>
<g transform="translate(570.62 469.50)" font-family='"Liberation Serif", serif' font-size="15.5" fill="#222" stroke="#222" stroke-width="0.45"><text transform="translate(-5.75 0) scale(0.700 1)" text-anchor="middle">3</text><text transform="translate(0.00 0) scale(0.700 1)" text-anchor="middle">5</text><text transform="translate(5.75 0) scale(0.700 1)" text-anchor="middle">0</text></g>
<g transform="translate(589.38 469.50)" font-family='"Liberation Serif", serif' font-size="15.5" fill="#222" stroke="#222" stroke-width="0.45"><text transform="translate(-5.75 0) scale(0.700 1)" text-anchor="middle">1</text><text transform="translate(0.00 0) scale(0.700 1)" text-anchor="middle">6</text><text transform="translate(5.75 0) scale(0.700 1)" text-anchor="middle">5</text></g>
<g transform="translate(608.17 469.50)" font-family='"Liberation Serif", serif' font-size="15.5" fill="#222" stroke="#222" stroke-width="0.45"><text transform="translate(0.00 0) scale(0.700 1)" text-anchor="middle">7</text></g>
<g transform="translate(644.95 469.50)" font-family='"Liberation Serif", serif' font-size="15.5" fill="#222" stroke="#222" stroke-width="0.45"><text transform="translate(-6.07 0) scale(0.700 1)" text-anchor="middle">2</text><text transform="translate(0.00 0) scale(0.700 1)" text-anchor="middle">2</text><text transform="translate(6.07 0) scale(0.700 1)" text-anchor="middle">2</text></g>
<g transform="translate(701.45 469.50)" font-family='"Liberation Serif", serif' font-size="15.5" fill="#222" stroke="#222" stroke-width="0.45"><text transform="translate(-6.07 0) scale(0.700 1)" text-anchor="middle">4</text><text transform="translate(0.00 0) scale(0.700 1)" text-anchor="middle">6</text><text transform="translate(6.07 0) scale(0.700 1)" text-anchor="middle">6</text></g>
<g transform="translate(722.85 469.50)" font-family='"Liberation Serif", serif' font-size="13.64" fill="#222" stroke="#222" stroke-width="0.45"><text transform="translate(-8.10 0) scale(0.700 1)" text-anchor="middle">1</text><text transform="translate(-2.70 0) scale(0.700 1)" text-anchor="middle">0</text><text transform="translate(2.70 0) scale(0.700 1)" text-anchor="middle">5</text><text transform="translate(8.10 0) scale(0.700 1)" text-anchor="middle">2</text></g>
<g transform="translate(746.85 469.50)" font-family='"Liberation Serif", serif' font-size="15.5" fill="#222" stroke="#222" stroke-width="0.45"><text transform="translate(-6.10 0) scale(0.700 1)" text-anchor="middle">7</text><text transform="translate(0.00 0) scale(0.700 1)" text-anchor="middle">8</text><text transform="translate(6.10 0) scale(0.700 1)" text-anchor="middle">9</text></g>
<g transform="translate(772.40 469.50)" font-family='"Liberation Serif", serif' font-size="15.5" fill="#222" stroke="#222" stroke-width="0.45"><text transform="translate(-6.10 0) scale(0.700 1)" text-anchor="middle">8</text><text transform="translate(0.00 0) scale(0.700 1)" text-anchor="middle">9</text><text transform="translate(6.10 0) scale(0.700 1)" text-anchor="middle">4</text></g>
<g transform="translate(89.62 490.00)" font-family='"Liberation Serif", serif' font-size="15.5" fill="#222" stroke="#222" stroke-width="0.45"><text transform="translate(-6.10 0) scale(0.700 1)" text-anchor="middle">4</text><text transform="translate(0.00 0) scale(0.700 1)" text-anchor="middle">2</text><text transform="translate(6.10 0) scale(0.700 1)" text-anchor="middle">3</text></g>
<g transform="translate(117.75 490.00)" font-family='"Liberation Serif", serif' font-size="15.5" fill="#222" stroke="#222" stroke-width="0.45"><text transform="translate(-6.10 0) scale(0.700 1)" text-anchor="middle">4</text><text transform="translate(0.00 0) scale(0.700 1)" text-anchor="middle">2</text><text transform="translate(6.10 0) scale(0.700 1)" text-anchor="middle">0</text></g>
<g transform="translate(145.50 490.00)" font-family='"Liberation Serif", serif' font-size="15.5" fill="#222" stroke="#222" stroke-width="0.45"><text transform="translate(-6.10 0) scale(0.700 1)" text-anchor="middle">6</text><text transform="translate(0.00 0) scale(0.700 1)" text-anchor="middle">9</text><text transform="translate(6.10 0) scale(0.700 1)" text-anchor="middle">7</text></g>
<g transform="translate(173.00 490.00)" font-family='"Liberation Serif", serif' font-size="15.5" fill="#222" stroke="#222" stroke-width="0.45"><text transform="translate(-6.10 0) scale(0.700 1)" text-anchor="middle">4</text><text transform="translate(0.00 0) scale(0.700 1)" text-anchor="middle">5</text><text transform="translate(6.10 0) scale(0.700 1)" text-anchor="middle">7</text></g>
<g transform="translate(200.62 490.00)" font-family='"Liberation Serif", serif' font-size="15.5" fill="#222" stroke="#222" stroke-width="0.45"><text transform="translate(-6.10 0) scale(0.700 1)" text-anchor="middle">1</text><text transform="translate(0.00 0) scale(0.700 1)" text-anchor="middle">6</text><text transform="translate(6.10 0) scale(0.700 1)" text-anchor="middle">5</text></g>
<g transform="translate(228.25 490.00)" font-family='"Liberation Serif", serif' font-size="15.5" fill="#222" stroke="#222" stroke-width="0.45"><text transform="translate(-6.10 0) scale(0.700 1)" text-anchor="middle">3</text><text transform="translate(0.00 0) scale(0.700 1)" text-anchor="middle">3</text><text transform="translate(6.10 0) scale(0.700 1)" text-anchor="middle">8</text></g>
<g transform="translate(256.00 490.00)" font-family='"Liberation Serif", serif' font-size="15.5" fill="#222" stroke="#222" stroke-width="0.45"><text transform="translate(-6.10 0) scale(0.700 1)" text-anchor="middle">3</text><text transform="translate(0.00 0) scale(0.700 1)" text-anchor="middle">3</text><text transform="translate(6.10 0) scale(0.700 1)" text-anchor="middle">0</text></g>
<g transform="translate(281.25 490.00)" font-family='"Liberation Serif", serif' font-size="15.5" fill="#222" stroke="#222" stroke-width="0.45"><text transform="translate(-6.10 0) scale(0.700 1)" text-anchor="middle">1</text><text transform="translate(0.00 0) scale(0.700 1)" text-anchor="middle">2</text><text transform="translate(6.10 0) scale(0.700 1)" text-anchor="middle">5</text></g>
<g transform="translate(303.50 490.00)" font-family='"Liberation Serif", serif' font-size="15.5" fill="#222" stroke="#222" stroke-width="0.45"><text transform="translate(-6.10 0) scale(0.700 1)" text-anchor="middle">3</text><text transform="translate(0.00 0) scale(0.700 1)" text-anchor="middle">8</text><text transform="translate(6.10 0) scale(0.700 1)" text-anchor="middle">3</text></g>
<g transform="translate(326.00 490.00)" font-family='"Liberation Serif", serif' font-size="15.5" fill="#222" stroke="#222" stroke-width="0.45"><text transform="translate(-6.10 0) scale(0.700 1)" text-anchor="middle">1</text><text transform="translate(0.00 0) scale(0.700 1)" text-anchor="middle">8</text><text transform="translate(6.10 0) scale(0.700 1)" text-anchor="middle">5</text></g>
<g transform="translate(348.50 490.00)" font-family='"Liberation Serif", serif' font-size="15.5" fill="#222" stroke="#222" stroke-width="0.45"><text transform="translate(-6.10 0) scale(0.700 1)" text-anchor="middle">1</text><text transform="translate(0.00 0) scale(0.700 1)" text-anchor="middle">5</text><text transform="translate(6.10 0) scale(0.700 1)" text-anchor="middle">9</text></g>
<g transform="translate(370.75 490.00)" font-family='"Liberation Serif", serif' font-size="15.5" fill="#222" stroke="#222" stroke-width="0.45"><text transform="translate(-6.10 0) scale(0.700 1)" text-anchor="middle">1</text><text transform="translate(0.00 0) scale(0.700 1)" text-anchor="middle">5</text><text transform="translate(6.10 0) scale(0.700 1)" text-anchor="middle">7</text></g>
<g transform="translate(393.12 490.00)" font-family='"Liberation Serif", serif' font-size="15.5" fill="#222" stroke="#222" stroke-width="0.45"><text transform="translate(-6.10 0) scale(0.700 1)" text-anchor="middle">3</text><text transform="translate(0.00 0) scale(0.700 1)" text-anchor="middle">0</text><text transform="translate(6.10 0) scale(0.700 1)" text-anchor="middle">0</text></g>
<g transform="translate(415.25 490.00)" font-family='"Liberation Serif", serif' font-size="15.5" fill="#222" stroke="#222" stroke-width="0.45"><text transform="translate(-6.10 0) scale(0.700 1)" text-anchor="middle">3</text><text transform="translate(0.00 0) scale(0.700 1)" text-anchor="middle">2</text><text transform="translate(6.10 0) scale(0.700 1)" text-anchor="middle">0</text></g>
<g transform="translate(437.50 490.00)" font-family='"Liberation Serif", serif' font-size="15.5" fill="#222" stroke="#222" stroke-width="0.45"><text transform="translate(-6.10 0) scale(0.700 1)" text-anchor="middle">1</text><text transform="translate(0.00 0) scale(0.700 1)" text-anchor="middle">8</text><text transform="translate(6.10 0) scale(0.700 1)" text-anchor="middle">2</text></g>
<g transform="translate(459.75 490.00)" font-family='"Liberation Serif", serif' font-size="15.5" fill="#222" stroke="#222" stroke-width="0.45"><text transform="translate(-6.10 0) scale(0.700 1)" text-anchor="middle">1</text><text transform="translate(0.00 0) scale(0.700 1)" text-anchor="middle">0</text><text transform="translate(6.10 0) scale(0.700 1)" text-anchor="middle">9</text></g>
<g transform="translate(481.88 490.00)" font-family='"Liberation Serif", serif' font-size="15.5" fill="#222" stroke="#222" stroke-width="0.45"><text transform="translate(-3.05 0) scale(0.700 1)" text-anchor="middle">8</text><text transform="translate(3.05 0) scale(0.700 1)" text-anchor="middle">2</text></g>
<g transform="translate(504.25 490.00)" font-family='"Liberation Serif", serif' font-size="15.5" fill="#222" stroke="#222" stroke-width="0.45"><text transform="translate(-6.10 0) scale(0.700 1)" text-anchor="middle">4</text><text transform="translate(0.00 0) scale(0.700 1)" text-anchor="middle">5</text><text transform="translate(6.10 0) scale(0.700 1)" text-anchor="middle">8</text></g>
<g transform="translate(529.38 490.00)" font-family='"Liberation Serif", serif' font-size="15.5" fill="#222" stroke="#222" stroke-width="0.45"><text transform="translate(-6.10 0) scale(0.700 1)" text-anchor="middle">6</text><text transform="translate(0.00 0) scale(0.700 1)" text-anchor="middle">6</text><text transform="translate(6.10 0) scale(0.700 1)" text-anchor="middle">7</text></g>
<g transform="translate(552.25 490.00)" font-family='"Liberation Serif", serif' font-size="15.5" fill="#222" stroke="#222" stroke-width="0.45"><text transform="translate(-5.50 0) scale(0.674 1)" text-anchor="middle">5</text><text transform="translate(0.00 0) scale(0.674 1)" text-anchor="middle">3</text><text transform="translate(5.50 0) scale(0.674 1)" text-anchor="middle">0</text></g>
<g transform="translate(570.62 490.00)" font-family='"Liberation Serif", serif' font-size="15.5" fill="#222" stroke="#222" stroke-width="0.45"><text transform="translate(-5.75 0) scale(0.700 1)" text-anchor="middle">3</text><text transform="translate(0.00 0) scale(0.700 1)" text-anchor="middle">5</text><text transform="translate(5.75 0) scale(0.700 1)" text-anchor="middle">6</text></g>
<g transform="translate(589.38 490.00)" font-family='"Liberation Serif", serif' font-size="15.5" fill="#222" stroke="#222" stroke-width="0.45"><text transform="translate(-5.75 0) scale(0.700 1)" text-anchor="middle">1</text><text transform="translate(0.00 0) scale(0.700 1)" text-anchor="middle">7</text><text transform="translate(5.75 0) scale(0.700 1)" text-anchor="middle">0</text></g>
<g transform="translate(608.17 490.00)" font-family='"Liberation Serif", serif' font-size="15.5" fill="#222" stroke="#222" stroke-width="0.45"><text transform="translate(-3.05 0) scale(0.700 1)" text-anchor="middle">1</text><text transform="translate(3.05 0) scale(0.700 1)" text-anchor="middle">2</text></g>
<g transform="translate(626.35 490.00)" font-family='"Liberation Serif", serif' font-size="15.5" fill="#222" stroke="#222" stroke-width="0.45"><text transform="translate(0.00 0) scale(0.700 1)" text-anchor="middle">/</text></g>
<g transform="translate(644.95 490.00)" font-family='"Liberation Serif", serif' font-size="15.5" fill="#222" stroke="#222" stroke-width="0.45"><text transform="translate(-6.07 0) scale(0.700 1)" text-anchor="middle">2</text><text transform="translate(0.00 0) scale(0.700 1)" text-anchor="middle">6</text><text transform="translate(6.07 0) scale(0.700 1)" text-anchor="middle">6</text></g>
<g transform="translate(673.20 490.00)" font-family='"Liberation Serif", serif' font-size="13.64" fill="#222" stroke="#222" stroke-width="0.45"><text transform="translate(-12.20 0) scale(0.700 1)" text-anchor="middle">8</text><text transform="translate(-6.10 0) scale(0.700 1)" text-anchor="middle">-</text><text transform="translate(0.00 0) scale(0.478 1)" text-anchor="middle">M</text><text transform="translate(6.10 0) scale(0.700 1)" text-anchor="middle">3</text><text transform="translate(12.20 0) scale(0.700 1)" text-anchor="middle">0</text></g>
<g transform="translate(701.45 490.00)" font-family='"Liberation Serif", serif' font-size="15.5" fill="#222" stroke="#222" stroke-width="0.45"><text transform="translate(-6.07 0) scale(0.700 1)" text-anchor="middle">5</text><text transform="translate(0.00 0) scale(0.700 1)" text-anchor="middle">8</text><text transform="translate(6.07 0) scale(0.700 1)" text-anchor="middle">4</text></g>
<g transform="translate(722.85 490.00)" font-family='"Liberation Serif", serif' font-size="13.64" fill="#222" stroke="#222" stroke-width="0.45"><text transform="translate(-8.10 0) scale(0.700 1)" text-anchor="middle">1</text><text transform="translate(-2.70 0) scale(0.700 1)" text-anchor="middle">1</text><text transform="translate(2.70 0) scale(0.700 1)" text-anchor="middle">5</text><text transform="translate(8.10 0) scale(0.700 1)" text-anchor="middle">4</text></g>
<g transform="translate(746.85 490.00)" font-family='"Liberation Serif", serif' font-size="15.5" fill="#222" stroke="#222" stroke-width="0.45"><text transform="translate(-6.10 0) scale(0.700 1)" text-anchor="middle">8</text><text transform="translate(0.00 0) scale(0.700 1)" text-anchor="middle">4</text><text transform="translate(6.10 0) scale(0.700 1)" text-anchor="middle">3</text></g>
<g transform="translate(772.40 490.00)" font-family='"Liberation Serif", serif' font-size="13.64" fill="#222" stroke="#222" stroke-width="0.45"><text transform="translate(-9.15 0) scale(0.700 1)" text-anchor="middle">1</text><text transform="translate(-3.05 0) scale(0.700 1)" text-anchor="middle">1</text><text transform="translate(3.05 0) scale(0.700 1)" text-anchor="middle">1</text><text transform="translate(9.15 0) scale(0.700 1)" text-anchor="middle">6</text></g>
<g transform="translate(504.25 455.50)" font-family='"Liberation Serif", serif' font-size="15.5" fill="#222" stroke="#222" stroke-width="0.45"><text transform="translate(-6.10 0) scale(0.700 1)" text-anchor="middle">3</text><text transform="translate(0.00 0) scale(0.700 1)" text-anchor="middle">0</text><text transform="translate(6.10 0) scale(0.700 1)" text-anchor="middle">5</text></g>
<g transform="translate(626.35 455.50)" font-family='"Liberation Serif", serif' font-size="15.5" fill="#222" stroke="#222" stroke-width="0.45"><text transform="translate(-3.05 0) scale(0.700 1)" text-anchor="middle">2</text><text transform="translate(3.05 0) scale(0.700 1)" text-anchor="middle">5</text></g>
<g transform="translate(673.20 455.50)" font-family='"Liberation Serif", serif' font-size="15.5" fill="#222" stroke="#222" stroke-width="0.45"><text transform="translate(-13.60 0) scale(0.720 1)" text-anchor="middle">8</text><text transform="translate(-6.80 0) scale(0.720 1)" text-anchor="middle">-</text><text transform="translate(0.00 0) scale(0.454 1)" text-anchor="middle">M</text><text transform="translate(6.80 0) scale(0.720 1)" text-anchor="middle">2</text><text transform="translate(13.60 0) scale(0.720 1)" text-anchor="middle">0</text></g>
<g transform="translate(43.20 440.30)" font-family='"Liberation Serif", serif' font-size="12.5" fill="#222" stroke="#222" stroke-width="0.45"><text transform="translate(-29.52 0) scale(0.694 1)" text-anchor="middle">S</text><text transform="translate(-24.60 0) scale(0.434 1)" text-anchor="middle">M</text><text transform="translate(-19.68 0) scale(0.578 1)" text-anchor="middle">C</text><text transform="translate(-14.76 0) scale(1.000 1)" text-anchor="middle">-</text><text transform="translate(-9.84 0) scale(0.771 1)" text-anchor="middle">0</text><text transform="translate(-4.92 0) scale(0.771 1)" text-anchor="middle">0</text><text transform="translate(0.00 0) scale(0.631 1)" text-anchor="middle">E</text><text transform="translate(4.92 0) scale(0.771 1)" text-anchor="middle">x</text><text transform="translate(9.84 0) scale(1.000 1)" text-anchor="middle">/</text><text transform="translate(14.76 0) scale(0.534 1)" text-anchor="middle">H</text><text transform="translate(19.68 0) scale(0.771 1)" text-anchor="middle">3</text><text transform="translate(24.60 0) scale(0.578 1)" text-anchor="middle">B</text><text transform="translate(29.52 0) scale(0.578 1)" text-anchor="middle">C</text></g>
<g transform="translate(43.20 454.30)" font-family='"Liberation Serif", serif' font-size="12.5" fill="#222" stroke="#222" stroke-width="0.45"><text transform="translate(-27.72 0) scale(0.710 1)" text-anchor="middle">S</text><text transform="translate(-22.68 0) scale(0.444 1)" text-anchor="middle">M</text><text transform="translate(-17.64 0) scale(0.592 1)" text-anchor="middle">C</text><text transform="translate(-12.60 0) scale(1.000 1)" text-anchor="middle">-</text><text transform="translate(-7.56 0) scale(0.790 1)" text-anchor="middle">0</text><text transform="translate(-2.52 0) scale(0.647 1)" text-anchor="middle">E</text><text transform="translate(2.52 0) scale(0.790 1)" text-anchor="middle">x</text><text transform="translate(7.56 0) scale(1.000 1)" text-anchor="middle">/</text><text transform="translate(12.60 0) scale(0.547 1)" text-anchor="middle">H</text><text transform="translate(17.64 0) scale(0.790 1)" text-anchor="middle">4</text><text transform="translate(22.68 0) scale(0.592 1)" text-anchor="middle">B</text><text transform="translate(27.72 0) scale(0.592 1)" text-anchor="middle">C</text></g>
<g transform="translate(43.20 468.30)" font-family='"Liberation Serif", serif' font-size="12.5" fill="#222" stroke="#222" stroke-width="0.45"><text transform="translate(-27.72 0) scale(0.710 1)" text-anchor="middle">S</text><text transform="translate(-22.68 0) scale(0.444 1)" text-anchor="middle">M</text><text transform="translate(-17.64 0) scale(0.592 1)" text-anchor="middle">C</text><text transform="translate(-12.60 0) scale(1.000 1)" text-anchor="middle">-</text><text transform="translate(-7.56 0) scale(0.790 1)" text-anchor="middle">1</text><text transform="translate(-2.52 0) scale(0.647 1)" text-anchor="middle">E</text><text transform="translate(2.52 0) scale(0.790 1)" text-anchor="middle">x</text><text transform="translate(7.56 0) scale(1.000 1)" text-anchor="middle">/</text><text transform="translate(12.60 0) scale(0.547 1)" text-anchor="middle">H</text><text transform="translate(17.64 0) scale(0.790 1)" text-anchor="middle">5</text><text transform="translate(22.68 0) scale(0.592 1)" text-anchor="middle">B</text><text transform="translate(27.72 0) scale(0.592 1)" text-anchor="middle">C</text></g>
<g transform="translate(43.20 488.80)" font-family='"Liberation Serif", serif' font-size="12.5" fill="#222" stroke="#222" stroke-width="0.45"><text transform="translate(-27.72 0) scale(0.710 1)" text-anchor="middle">S</text><text transform="translate(-22.68 0) scale(0.444 1)" text-anchor="middle">M</text><text transform="translate(-17.64 0) scale(0.592 1)" text-anchor="middle">C</text><text transform="translate(-12.60 0) scale(1.000 1)" text-anchor="middle">-</text><text transform="translate(-7.56 0) scale(0.790 1)" text-anchor="middle">2</text><text transform="translate(-2.52 0) scale(0.647 1)" text-anchor="middle">E</text><text transform="translate(2.52 0) scale(0.790 1)" text-anchor="middle">x</text><text transform="translate(7.56 0) scale(1.000 1)" text-anchor="middle">/</text><text transform="translate(12.60 0) scale(0.547 1)" text-anchor="middle">H</text><text transform="translate(17.64 0) scale(0.790 1)" text-anchor="middle">6</text><text transform="translate(22.68 0) scale(0.592 1)" text-anchor="middle">B</text><text transform="translate(27.72 0) scale(0.592 1)" text-anchor="middle">C</text></g>
<text x="12.50" y="426.50" font-family='"Liberation Serif", serif' font-size="13.5" font-weight="normal" text-anchor="start" fill="#222" stroke="#222" stroke-width="0.3" textLength="24.00" lengthAdjust="spacingAndGlyphs">Type</text>
<text x="74.50" y="423.80" font-family='"Liberation Serif", serif' font-size="13.5" font-weight="normal" text-anchor="end" fill="#222" stroke="#222" stroke-width="0.3" textLength="23.00" lengthAdjust="spacingAndGlyphs">Item</text>
<g transform="translate(10.00 410.60)" font-family='"Liberation Serif", serif' font-size="13" fill="#222" stroke="#222" stroke-width="0.4"><text transform="translate(3.27 0) scale(0.693 1)" text-anchor="middle">B</text><text transform="translate(9.79 0) scale(0.924 1)" text-anchor="middle">o</text><text transform="translate(16.32 0) scale(0.924 1)" text-anchor="middle">u</text><text transform="translate(22.86 0) scale(0.924 1)" text-anchor="middle">n</text><text transform="translate(29.39 0) scale(0.924 1)" text-anchor="middle">d</text><text transform="translate(35.91 0) scale(1.000 1)" text-anchor="middle">a</text><text transform="translate(42.45 0) scale(1.000 1)" text-anchor="middle">r</text><text transform="translate(48.98 0) scale(0.924 1)" text-anchor="middle">y</text><text transform="translate(62.04 0) scale(0.924 1)" text-anchor="middle">d</text><text transform="translate(68.56 0) scale(1.000 1)" text-anchor="middle">i</text><text transform="translate(75.09 0) scale(0.594 1)" text-anchor="middle">m</text><text transform="translate(81.62 0) scale(1.000 1)" text-anchor="middle">e</text><text transform="translate(88.16 0) scale(0.924 1)" text-anchor="middle">n</text><text transform="translate(94.69 0) scale(1.000 1)" text-anchor="middle">s</text><text transform="translate(101.22 0) scale(1.000 1)" text-anchor="middle">i</text><text transform="translate(107.75 0) scale(0.924 1)" text-anchor="middle">o</text><text transform="translate(114.28 0) scale(0.924 1)" text-anchor="middle">n</text><text transform="translate(120.81 0) scale(1.000 1)" text-anchor="middle">s</text><text transform="translate(133.87 0) scale(1.000 1)" text-anchor="middle">a</text><text transform="translate(140.40 0) scale(0.924 1)" text-anchor="middle">n</text><text transform="translate(146.93 0) scale(0.924 1)" text-anchor="middle">d</text><text transform="translate(159.99 0) scale(1.000 1)" text-anchor="middle">c</text><text transform="translate(166.52 0) scale(0.924 1)" text-anchor="middle">o</text><text transform="translate(173.05 0) scale(0.924 1)" text-anchor="middle">n</text><text transform="translate(179.58 0) scale(0.924 1)" text-anchor="middle">n</text><text transform="translate(186.11 0) scale(1.000 1)" text-anchor="middle">e</text><text transform="translate(192.64 0) scale(1.000 1)" text-anchor="middle">c</text><text transform="translate(199.17 0) scale(1.000 1)" text-anchor="middle">t</text><text transform="translate(205.70 0) scale(1.000 1)" text-anchor="middle">i</text><text transform="translate(212.22 0) scale(0.924 1)" text-anchor="middle">n</text><text transform="translate(218.75 0) scale(0.924 1)" text-anchor="middle">g</text><text transform="translate(231.81 0) scale(1.000 1)" text-anchor="middle">s</text><text transform="translate(238.34 0) scale(1.000 1)" text-anchor="middle">i</text><text transform="translate(244.88 0) scale(1.000 1)" text-anchor="middle">z</text><text transform="translate(251.41 0) scale(1.000 1)" text-anchor="middle">e</text><text transform="translate(264.47 0) scale(0.924 1)" text-anchor="middle">o</text><text transform="translate(271.00 0) scale(1.000 1)" text-anchor="middle">f</text><text transform="translate(284.06 0) scale(1.000 1)" text-anchor="middle">f</text><text transform="translate(290.59 0) scale(1.000 1)" text-anchor="middle">l</text><text transform="translate(297.12 0) scale(1.000 1)" text-anchor="middle">a</text><text transform="translate(303.65 0) scale(0.924 1)" text-anchor="middle">n</text><text transform="translate(310.18 0) scale(0.924 1)" text-anchor="middle">g</text><text transform="translate(316.70 0) scale(1.000 1)" text-anchor="middle">e</text><text transform="translate(329.76 0) scale(1.000 1)" text-anchor="middle">f</text><text transform="translate(336.30 0) scale(0.924 1)" text-anchor="middle">o</text><text transform="translate(342.82 0) scale(1.000 1)" text-anchor="middle">r</text></g>
<g transform="translate(362.60 410.60)" font-family='"Liberation Serif", serif' font-size="13" fill="#222" stroke="#222" stroke-width="0.4"><text transform="translate(3.23 0) scale(0.823 1)" text-anchor="middle">S</text><text transform="translate(9.71 0) scale(0.515 1)" text-anchor="middle">M</text><text transform="translate(16.18 0) scale(0.686 1)" text-anchor="middle">C</text><text transform="translate(22.64 0) scale(1.000 1)" text-anchor="middle">-</text><text transform="translate(29.11 0) scale(0.916 1)" text-anchor="middle">0</text><text transform="translate(35.59 0) scale(0.916 1)" text-anchor="middle">0</text></g>
<text x="408.60" y="409.80" font-family='"Liberation Serif", serif' font-size="13" font-weight="normal" text-anchor="middle" fill="#222" stroke="#222" stroke-width="0.3" textLength="8.00" lengthAdjust="spacingAndGlyphs">~</text>
<g transform="translate(416.50 410.60)" font-family='"Liberation Serif", serif' font-size="13" fill="#222" stroke="#222" stroke-width="0.4"><text transform="translate(3.23 0) scale(0.916 1)" text-anchor="middle">2</text><text transform="translate(9.71 0) scale(0.750 1)" text-anchor="middle">E</text><text transform="translate(16.18 0) scale(0.916 1)" text-anchor="middle">x</text><text transform="translate(22.64 0) scale(1.000 1)" text-anchor="middle">/</text><text transform="translate(29.11 0) scale(0.634 1)" text-anchor="middle">H</text><text transform="translate(35.59 0) scale(0.686 1)" text-anchor="middle">B</text><text transform="translate(42.05 0) scale(0.686 1)" text-anchor="middle">C</text></g>
<g transform="translate(9.00 509.80)" font-family='"Liberation Serif", serif' font-size="13" fill="#222" stroke="#222" stroke-width="0.4"><text transform="translate(3.29 0) scale(0.646 1)" text-anchor="middle">N</text><text transform="translate(9.88 0) scale(0.646 1)" text-anchor="middle">O</text><text transform="translate(16.48 0) scale(0.763 1)" text-anchor="middle">T</text><text transform="translate(23.06 0) scale(1.000 1)" text-anchor="middle">I</text><text transform="translate(29.66 0) scale(0.699 1)" text-anchor="middle">C</text><text transform="translate(36.24 0) scale(0.763 1)" text-anchor="middle">E</text><text transform="translate(42.84 0) scale(1.000 1)" text-anchor="middle">:</text><text transform="translate(56.02 0) scale(0.646 1)" text-anchor="middle">A</text><text transform="translate(62.60 0) scale(1.000 1)" text-anchor="middle">l</text><text transform="translate(69.19 0) scale(1.000 1)" text-anchor="middle">l</text><text transform="translate(82.38 0) scale(1.000 1)" text-anchor="middle">t</text><text transform="translate(88.97 0) scale(0.933 1)" text-anchor="middle">h</text><text transform="translate(95.55 0) scale(1.000 1)" text-anchor="middle">e</text><text transform="translate(108.73 0) scale(0.933 1)" text-anchor="middle">d</text><text transform="translate(115.33 0) scale(1.000 1)" text-anchor="middle">a</text><text transform="translate(121.91 0) scale(1.000 1)" text-anchor="middle">t</text><text transform="translate(128.50 0) scale(1.000 1)" text-anchor="middle">a</text><text transform="translate(141.69 0) scale(0.933 1)" text-anchor="middle">u</text><text transform="translate(148.28 0) scale(0.933 1)" text-anchor="middle">n</text><text transform="translate(154.87 0) scale(1.000 1)" text-anchor="middle">i</text><text transform="translate(161.45 0) scale(1.000 1)" text-anchor="middle">t</text><text transform="translate(174.63 0) scale(0.933 1)" text-anchor="middle">o</text><text transform="translate(181.22 0) scale(1.000 1)" text-anchor="middle">f</text><text transform="translate(194.41 0) scale(0.600 1)" text-anchor="middle">m</text><text transform="translate(201.00 0) scale(1.000 1)" text-anchor="middle">e</text><text transform="translate(207.59 0) scale(1.000 1)" text-anchor="middle">a</text><text transform="translate(214.17 0) scale(1.000 1)" text-anchor="middle">s</text><text transform="translate(220.76 0) scale(0.933 1)" text-anchor="middle">u</text><text transform="translate(227.35 0) scale(1.000 1)" text-anchor="middle">r</text><text transform="translate(233.94 0) scale(1.000 1)" text-anchor="middle">e</text><text transform="translate(247.12 0) scale(1.000 1)" text-anchor="middle">i</text><text transform="translate(253.72 0) scale(1.000 1)" text-anchor="middle">s</text></g>
<text x="280.00" y="509.80" font-family='"Liberation Serif", serif' font-size="12.5" font-weight="normal" text-anchor="start" fill="#222" stroke="#222" stroke-width="0.3" textLength="26.00" lengthAdjust="spacingAndGlyphs">“mm”</text>
<line x1="62.50" y1="68.50" x2="62.50" y2="244.00" stroke="#222" stroke-width="0.9"/>
<line x1="281.00" y1="68.50" x2="281.00" y2="142.70" stroke="#222" stroke-width="0.9"/>
<line x1="62.50" y1="73.80" x2="281.00" y2="73.80" stroke="#222" stroke-width="0.9"/>
<polygon points="62.50,73.80 71.50,72.20 71.50,75.40" fill="#222"/>
<polygon points="281.00,73.80 272.00,75.40 272.00,72.20" fill="#222"/>
<g transform="translate(174.00 70.80)" font-family='"Liberation Serif", serif' font-size="18.5" fill="#222" stroke="#222" stroke-width="0.45"><text transform="translate(0.00 0) scale(0.668 1)" text-anchor="middle">L</text></g>
<line x1="62.50" y1="99.00" x2="166.00" y2="99.00" stroke="#222" stroke-width="0.9"/>
<polygon points="62.50,99.00 71.50,97.40 71.50,100.60" fill="#222"/>
<polygon points="166.00,99.00 157.00,100.60 157.00,97.40" fill="#222"/>
<line x1="166.00" y1="281.00" x2="166.00" y2="281.00" stroke="#222" stroke-width="0.9"/>
<line x1="166.00" y1="99.00" x2="281.00" y2="99.00" stroke="#222" stroke-width="0.9"/>
<polygon points="166.00,99.00 175.00,97.40 175.00,100.60" fill="#222"/>
<polygon points="281.00,99.00 272.00,100.60 272.00,97.40" fill="#222"/>
<line x1="166.00" y1="93.50" x2="166.00" y2="135.00" stroke="#222" stroke-width="0.9"/>
<g transform="translate(114.80 96.30)" font-family='"Liberation Serif", serif' font-size="18.5" fill="#222" stroke="#222" stroke-width="0.45"><text transform="translate(-4.08 0) scale(0.664 1)" text-anchor="middle">L</text><text transform="translate(4.08 0) scale(0.811 1)" text-anchor="middle">4</text></g>
<text transform="translate(197.5 96.3) scale(0.664 1)" text-anchor="middle" font-family='"Liberation Serif", serif' font-size="18.5" fill="#222" stroke="#222" stroke-width="0.45">L</text>
<text transform="translate(206.5 96.3) scale(0.778 1)" text-anchor="middle" font-family='"Liberation Serif", serif' font-size="18.5" fill="#222" stroke="#222" stroke-width="0.45">3</text>
<text transform="translate(215.5 96.3) scale(0.617 1)" text-anchor="middle" font-family='"Liberation Serif", serif' font-size="18.5" fill="#222" stroke="#222" stroke-width="0.45">(</text>
<text transform="translate(223.5 96.3) scale(0.730 1)" text-anchor="middle" font-family='"Liberation Serif", serif' font-size="18.5" fill="#222" stroke="#222" stroke-width="0.45">m</text>
<text transform="translate(232.5 96.3) scale(0.792 1)" text-anchor="middle" font-family='"Liberation Serif", serif' font-size="18.5" fill="#222" stroke="#222" stroke-width="0.45">a</text>
<text transform="translate(245 96.3) scale(0.811 1)" text-anchor="middle" font-family='"Liberation Serif", serif' font-size="18.5" fill="#222" stroke="#222" stroke-width="0.45">x</text>
<text transform="translate(252 96.3) scale(0.617 1)" text-anchor="middle" font-family='"Liberation Serif", serif' font-size="18.5" fill="#222" stroke="#222" stroke-width="0.45">)</text>
<line x1="132.50" y1="118.40" x2="229.20" y2="118.40" stroke="#222" stroke-width="0.9"/>
<polygon points="152.00,118.40 143.00,120.00 143.00,116.80" fill="#222"/>
<polygon points="166.00,118.40 175.00,116.80 175.00,120.00" fill="#222"/>
<line x1="152.00" y1="113.00" x2="152.00" y2="135.00" stroke="#222" stroke-width="0.9"/>
<g transform="translate(218.50 115.90)" font-family='"Liberation Serif", serif' font-size="18.5" fill="#222" stroke="#222" stroke-width="0.45"><text transform="translate(-3.80 0) scale(0.523 1)" text-anchor="middle">A</text><text transform="translate(3.80 0) scale(0.756 1)" text-anchor="middle">2</text></g>
<line x1="35.00" y1="124.50" x2="88.00" y2="124.50" stroke="#222" stroke-width="0.9"/>
<line x1="35.00" y1="201.30" x2="62.50" y2="201.30" stroke="#222" stroke-width="0.9"/>
<line x1="40.40" y1="124.50" x2="40.40" y2="201.30" stroke="#222" stroke-width="0.9"/>
<polygon points="40.40,124.50 42.00,133.50 38.80,133.50" fill="#222"/>
<polygon points="40.40,201.30 38.80,192.30 42.00,192.30" fill="#222"/>
<g transform="translate(38.20 165.10) rotate(-90)" font-family='"Liberation Serif", serif' font-size="19" fill="#222" stroke="#222" stroke-width="0.45"><text transform="translate(-4.90 0) scale(0.900 1)" text-anchor="middle">ϕ</text><text transform="translate(4.90 0) scale(0.657 1)" text-anchor="middle">D</text></g>
<line x1="75.00" y1="163.00" x2="96.00" y2="163.00" stroke="#222" stroke-width="0.9"/>
<line x1="78.60" y1="163.00" x2="78.60" y2="194.20" stroke="#222" stroke-width="0.9"/>
<polygon points="78.60,163.00 80.20,172.00 77.00,172.00" fill="#222"/>
<polygon points="78.60,194.20 77.00,185.20 80.20,185.20" fill="#222"/>
<g transform="translate(74.00 177.80) rotate(-90)" font-family='"Liberation Serif", serif' font-size="18.5" fill="#222" stroke="#222" stroke-width="0.45"><text transform="translate(-3.95 0) scale(0.544 1)" text-anchor="middle">H</text><text transform="translate(3.95 0) scale(0.786 1)" text-anchor="middle">2</text></g>
<line x1="85.50" y1="202.00" x2="85.50" y2="244.00" stroke="#222" stroke-width="0.9"/>
<line x1="43.00" y1="239.40" x2="105.00" y2="239.40" stroke="#222" stroke-width="0.9"/>
<polygon points="62.50,239.40 53.50,241.00 53.50,237.80" fill="#222"/>
<polygon points="85.50,239.40 94.50,237.80 94.50,241.00" fill="#222"/>
<g transform="translate(74.00 237.00)" font-family='"Liberation Serif", serif' font-size="18.5" fill="#222" stroke="#222" stroke-width="0.45"><text transform="translate(-4.20 0) scale(0.835 1)" text-anchor="middle">9</text><text transform="translate(4.20 0) scale(0.835 1)" text-anchor="middle">5</text></g>
<line x1="92.00" y1="194.20" x2="337.50" y2="194.20" stroke="#222" stroke-width="0.9"/>
<line x1="281.00" y1="142.70" x2="337.50" y2="142.70" stroke="#222" stroke-width="0.9"/>
<line x1="332.90" y1="142.70" x2="332.90" y2="194.20" stroke="#222" stroke-width="0.9"/>
<polygon points="332.90,142.70 334.50,151.70 331.30,151.70" fill="#222"/>
<polygon points="332.90,194.20 331.30,185.20 334.50,185.20" fill="#222"/>
<line x1="285.50" y1="164.50" x2="311.50" y2="164.50" stroke="#222" stroke-width="0.9"/>
<line x1="306.80" y1="164.50" x2="306.80" y2="194.20" stroke="#222" stroke-width="0.9"/>
<polygon points="306.80,164.50 308.40,173.50 305.20,173.50" fill="#222"/>
<polygon points="306.80,194.20 305.20,185.20 308.40,185.20" fill="#222"/>
<g transform="translate(303.40 179.30) rotate(-90)" font-family='"Liberation Serif", serif' font-size="18.5" fill="#222" stroke="#222" stroke-width="0.45"><text transform="translate(-3.95 0) scale(0.544 1)" text-anchor="middle">H</text><text transform="translate(3.95 0) scale(0.786 1)" text-anchor="middle">4</text></g>
<g transform="translate(330.70 169.00) rotate(-90)" font-family='"Liberation Serif", serif' font-size="18.5" fill="#222" stroke="#222" stroke-width="0.45"><text transform="translate(-4.00 0) scale(0.551 1)" text-anchor="middle">H</text><text transform="translate(4.00 0) scale(0.796 1)" text-anchor="middle">5</text></g>
<rect x="85.80" y="124.60" width="6.20" height="77.20" rx="3.1" fill="none" stroke="#222" stroke-width="1.5"/>
<line x1="92.00" y1="133.50" x2="100.80" y2="156.60" stroke="#222" stroke-width="2.0"/>
<line x1="92.00" y1="191.00" x2="100.80" y2="169.00" stroke="#222" stroke-width="2.0"/>
<path d="M 92.7 159.3 L 95.5 159.3 L 95.5 156.6 L 110.5 156.6 L 110.5 169 L 95.5 169 L 95.5 166.3 L 92.7 166.3" fill="none" stroke="#222" stroke-width="1.3" stroke-linejoin="round" />
<line x1="95.50" y1="159.30" x2="100.50" y2="159.30" stroke="#222" stroke-width="1.1"/>
<line x1="95.50" y1="166.30" x2="100.50" y2="166.30" stroke="#222" stroke-width="1.1"/>
<rect x="110.50" y="161.50" width="4.00" height="4.00" rx="0" fill="none" stroke="#222" stroke-width="1.0"/>
<rect x="115.40" y="158.40" width="2.80" height="8.90" rx="0" fill="none" stroke="#222" stroke-width="1.1"/>
<path d="M 66 194.3 L 85.6 195.2 L 85.6 201.2 L 66 202.2 Q 62.8 202.2 62.8 198.2 Q 62.8 194.3 66 194.3 Z" fill="none" stroke="#222" stroke-width="1.4" stroke-linejoin="round" />
<polygon points="131.00,135.50 168.00,135.50 176.00,139.50 178.50,146.00 178.50,181.00 175.00,187.50 131.00,187.50 125.00,183.00 125.00,140.00" fill="none" stroke="#222" stroke-width="1.4" stroke-linejoin="round"/>
<path d="M 118.2 157.5 L 125.3 156 L 125.3 185 L 118.2 185 Z" fill="none" stroke="#222" stroke-width="1.3" stroke-linejoin="round" />
<line x1="121.50" y1="157.00" x2="121.50" y2="185.00" stroke="#222" stroke-width="0.8"/>
<circle cx="151.80" cy="161.20" r="26.00" fill="none" stroke="#222" stroke-width="2.2"/>
<circle cx="151.80" cy="161.20" r="23.60" fill="none" stroke="#222" stroke-width="1.0"/>
<circle cx="167.36" cy="176.76" r="1.70" fill="none" stroke="#222" stroke-width="1.0"/>
<circle cx="136.24" cy="176.76" r="1.70" fill="none" stroke="#222" stroke-width="1.0"/>
<circle cx="136.24" cy="145.64" r="1.70" fill="none" stroke="#222" stroke-width="1.0"/>
<circle cx="167.36" cy="145.64" r="1.70" fill="none" stroke="#222" stroke-width="1.0"/>
<rect x="129.90" y="154.20" width="44.30" height="8.80" rx="0" fill="#fff" stroke="#222" stroke-width="1.9"/>
<text x="152.10" y="161.80" font-family='"Liberation Sans", sans-serif' font-size="9.0" font-weight="bold" text-anchor="middle" fill="#222" stroke="#222" stroke-width="0.35" textLength="39.50" lengthAdjust="spacingAndGlyphs">TET-TIANLI</text>
<circle cx="151.80" cy="173.90" r="11.00" fill="#fff" stroke="#222" stroke-width="2.4"/>
<line x1="151.80" y1="163.00" x2="151.80" y2="167.00" stroke="#222" stroke-width="1.2"/>
<line x1="143.00" y1="180.50" x2="145.50" y2="180.50" stroke="#222" stroke-width="1.3"/>
<line x1="158.10" y1="180.50" x2="160.60" y2="180.50" stroke="#222" stroke-width="1.3"/>
<rect x="179.60" y="156.70" width="5.70" height="25.90" rx="0" fill="none" stroke="#222" stroke-width="1.2"/>
<circle cx="182.20" cy="161.30" r="1.90" fill="none" stroke="#222" stroke-width="1.0"/>
<circle cx="182.20" cy="178.30" r="1.90" fill="none" stroke="#222" stroke-width="1.0"/>
<line x1="181.00" y1="143.10" x2="214.00" y2="143.10" stroke="#222" stroke-width="0.9"/>
<path d="M 184 143.3 L 184 148 L 201 148 L 202.6 145.2 L 212.4 145.2 L 215.5 140.6" fill="none" stroke="#222" stroke-width="1.3" stroke-linejoin="round" />
<path d="M 188.8 197 L 188.8 188.3 L 196 188.3 L 197 189.8 L 201 189.8 L 202 188.3 L 205 188.3 L 206 189.8 L 210 189.8 L 211 188.3 L 215.5 188.3" fill="none" stroke="#222" stroke-width="1.2" stroke-linejoin="round" />
<path d="M 195.1 164 Q 195.1 159 200.3 159 Q 205.5 159 205.5 164 L 205.5 170 Q 205.5 175 200.3 175 Q 195.1 175 195.1 170 Z" fill="none" stroke="#222" stroke-width="1.3" stroke-linejoin="round" />
<circle cx="200.30" cy="170.50" r="2.20" fill="none" stroke="#222" stroke-width="1.1"/>
<rect x="215.80" y="140.60" width="4.60" height="51.20" rx="0" fill="none" stroke="#222" stroke-width="1.3"/>
<line x1="220.40" y1="149.20" x2="231.30" y2="149.20" stroke="#222" stroke-width="1.2"/>
<line x1="220.40" y1="161.30" x2="231.30" y2="161.30" stroke="#222" stroke-width="1.2"/>
<line x1="220.40" y1="188.30" x2="231.30" y2="188.30" stroke="#222" stroke-width="1.2"/>
<line x1="220.40" y1="143.50" x2="231.30" y2="143.50" stroke="#222" stroke-width="0.9"/>
<rect x="222.50" y="143.50" width="4.50" height="4.00" rx="0" fill="none" stroke="#222" stroke-width="1.1"/>
<rect x="222.50" y="173.50" width="4.50" height="3.80" rx="0" fill="none" stroke="#222" stroke-width="1.1"/>
<line x1="226.00" y1="161.30" x2="226.00" y2="188.30" stroke="#222" stroke-width="0.9"/>
<rect x="231.20" y="141.20" width="10.00" height="46.30" rx="0" fill="none" stroke="#222" stroke-width="1.4"/>
<line x1="236.90" y1="141.20" x2="236.90" y2="187.50" stroke="#222" stroke-width="1.0"/>
<rect x="241.20" y="142.60" width="30.00" height="44.30" rx="0" fill="none" stroke="#222" stroke-width="1.4"/>
<rect x="271.20" y="141.20" width="8.80" height="46.80" rx="0" fill="none" stroke="#222" stroke-width="1.4"/>
<line x1="275.60" y1="141.20" x2="275.60" y2="188.00" stroke="#222" stroke-width="1.0"/>
<rect x="280.00" y="145.00" width="1.50" height="4.00" rx="0" fill="none" stroke="#222" stroke-width="0.8"/>
<rect x="280.00" y="160.50" width="2.50" height="8.00" rx="0" fill="none" stroke="#222" stroke-width="1.0"/>
<rect x="280.00" y="179.00" width="1.50" height="4.00" rx="0" fill="none" stroke="#222" stroke-width="0.8"/>
<line x1="207.20" y1="164.40" x2="228.00" y2="164.40" stroke="#222" stroke-width="0.8"/>
<line x1="266.00" y1="164.70" x2="312.00" y2="164.70" stroke="#222" stroke-width="0.8"/>
<line x1="152.00" y1="135.00" x2="152.00" y2="200.00" stroke="#222" stroke-width="0.8" stroke-dasharray="6,2,1.5,2"/>
<line x1="166.00" y1="135.00" x2="166.00" y2="346.00" stroke="#222" stroke-width="0.8" stroke-dasharray="10,2,1.5,2"/>
<rect x="143.80" y="194.20" width="44.00" height="3.50" rx="0" fill="none" stroke="#222" stroke-width="1.3"/>
<rect x="150.60" y="197.70" width="8.50" height="13.50" rx="0" fill="none" stroke="#222" stroke-width="1.3"/>
<rect x="173.00" y="197.70" width="8.50" height="13.50" rx="0" fill="none" stroke="#222" stroke-width="1.3"/>
<rect x="144.70" y="211.20" width="42.00" height="7.50" rx="0" fill="none" stroke="#222" stroke-width="1.4"/>
<path d="M 144.7 218.7 L 144.7 236 Q 144.7 240 148 240 L 148 286 Q 144.7 287 144.7 292 L 144.7 301.5 L 187 301.5" fill="none" stroke="#222" stroke-width="1.4" stroke-linejoin="round" />
<line x1="144.70" y1="292.00" x2="187.00" y2="292.00" stroke="#222" stroke-width="1.3"/>
<line x1="148.00" y1="240.00" x2="176.00" y2="240.00" stroke="#222" stroke-width="1.3"/>
<line x1="148.00" y1="286.50" x2="176.00" y2="286.50" stroke="#222" stroke-width="1.3"/>
<line x1="186.70" y1="218.70" x2="186.70" y2="234.00" stroke="#222" stroke-width="1.4"/>
<circle cx="208.50" cy="263.30" r="37.50" fill="#fff" stroke="#222" stroke-width="1.7"/>
<circle cx="208.50" cy="263.30" r="30.60" fill="none" stroke="#222" stroke-width="1.6"/>
<circle cx="208.50" cy="263.30" r="16.00" fill="none" stroke="#222" stroke-width="1.6"/>
<polyline points="187.61,224.01 187.95,223.83 188.30,223.65 188.64,223.48 188.99,223.30 189.34,223.13 189.69,222.97 190.05,222.81 190.40,222.65 190.76,222.49 191.11,222.34 191.47,222.19 191.83,222.04 192.19,221.90 192.55,221.76 192.92,221.62 193.28,221.48 193.65,221.35 194.01,221.22 194.38,221.10 194.75,220.98 195.12,220.86 195.49,220.74 195.86,220.63 196.23,220.52 196.61,220.42 196.98,220.32 197.36,220.22 197.73,220.12 198.11,220.03 198.49,219.94 198.87,219.85 199.25,219.77 199.63,219.69 200.01,219.62 200.39,219.55 200.77,219.48 201.16,219.41 201.54,219.35 201.92,219.29 202.31,219.23 202.69,219.18 203.08,219.13 203.46,219.09 203.85,219.04 204.23,219.00 204.62,218.97 205.01,218.94 205.40,218.91 205.78,218.88 206.17,218.86 206.56,218.84 206.95,218.83 207.34,218.82 207.72,218.81 208.11,218.80 208.50,218.80 208.89,218.80 209.28,218.81 209.66,218.82 210.05,218.83 210.44,218.84 210.83,218.86 211.22,218.88 211.60,218.91 211.99,218.94 212.38,218.97 212.77,219.00 213.15,219.04 213.54,219.09 213.92,219.13 214.31,219.18 214.69,219.23 215.08,219.29 215.46,219.35 215.84,219.41 216.23,219.48 216.61,219.55 216.99,219.62 217.37,219.69 217.75,219.77 218.13,219.85 218.51,219.94 218.89,220.03 219.27,220.12 219.64,220.22 220.02,220.32 220.39,220.42 220.77,220.52 221.14,220.63 221.51,220.74 221.88,220.86 222.25,220.98 222.62,221.10 222.99,221.22 223.35,221.35 223.72,221.48 224.08,221.62 224.45,221.76 224.81,221.90 225.17,222.04 225.53,222.19 225.89,222.34 226.24,222.49 226.60,222.65 226.95,222.81 227.31,222.97 227.66,223.13 228.01,223.30 228.36,223.48 228.70,223.65 229.05,223.83 229.39,224.01 229.73,224.19 230.07,224.38 230.41,224.57 230.75,224.76 231.09,224.96 231.42,225.16 231.75,225.36 232.08,225.56 232.41,225.77 232.74,225.98 233.06,226.19 233.38,226.41 233.71,226.63 234.02,226.85 234.34,227.07 234.66,227.30 234.97,227.53 235.28,227.76 235.59,228.00 235.90,228.23 236.20,228.47 236.50,228.72 236.81,228.96 237.10,229.21 237.40,229.46 237.69,229.72 237.99,229.97 238.28,230.23 238.56,230.49 238.85,230.75 239.13,231.02 239.41,231.29 239.69,231.56 239.97,231.83 240.24,232.11 240.51,232.39 240.78,232.67 241.05,232.95 241.31,233.24 241.57,233.52 241.83,233.81 242.08,234.11 242.34,234.40 242.59,234.70 242.84,234.99 243.08,235.30 243.91,235.13 244.75,234.98 245.59,234.84 246.44,234.71 246.60,235.11 246.77,235.50 246.93,235.89 247.08,236.28 247.23,236.68 247.38,237.07 247.53,237.47 247.67,237.87 247.80,238.26 247.93,238.66 248.06,239.06 248.19,239.45 248.31,239.85 248.42,240.25 248.54,240.65 248.65,241.05 248.75,241.45 248.85,241.85 248.95,242.24 249.04,242.64 249.13,243.04 249.22,243.44 249.39,243.80 249.56,244.16 249.72,244.51 249.88,244.87 250.04,245.24 250.20,245.60 250.35,245.96 250.50,246.33 250.65,246.70 250.79,247.07 250.93,247.44 251.07,247.81 251.20,248.18 251.33,248.55 251.46,248.93 251.58,249.30 251.70,249.68 251.82,250.06 251.93,250.43 252.05,250.81 252.15,251.19 252.26,251.58 252.36,251.96 252.45,252.34 252.55,252.72 252.64,253.11 252.73,253.50 252.81,253.88 252.89,254.27 252.97,254.66 253.04,255.04 253.11,255.43 253.18,255.82 253.24,256.21 253.30,256.60 253.36,257.00 253.41,257.39 253.46,257.78 253.51,258.17 253.55,258.56 253.59,258.96 253.63,259.35 253.66,259.75 253.69,260.14 253.72,260.53 253.74,260.93 253.76,261.32 253.77,261.72 253.78,262.11 253.79,262.51 253.80,262.90 253.80,263.30 253.80,263.70 253.79,264.09 253.78,264.49 253.77,264.88 253.76,265.28 253.74,265.67 253.72,266.07 253.69,266.46 253.66,266.85 253.63,267.25 253.59,267.64 253.55,268.04 253.51,268.43 253.46,268.82 253.41,269.21 253.36,269.60 253.30,270.00 253.24,270.39 253.18,270.78 253.11,271.17 253.04,271.56 252.97,271.94 252.89,272.33 252.81,272.72 252.73,273.10 252.64,273.49 252.55,273.88 252.45,274.26 252.36,274.64 252.26,275.02 252.15,275.41 252.05,275.79 251.93,276.17 251.82,276.54 251.70,276.92 251.58,277.30 251.46,277.67 251.33,278.05 251.20,278.42 251.07,278.79 250.93,279.16 250.79,279.53 250.65,279.90 250.50,280.27 250.35,280.64 250.20,281.00 250.04,281.36 249.88,281.73 249.72,282.09 249.56,282.44 249.39,282.80 249.22,283.16 249.13,283.56 249.04,283.96 248.95,284.36 248.85,284.75 248.75,285.15 248.65,285.55 248.54,285.95 248.42,286.35 248.31,286.75 248.19,287.15 248.06,287.54 247.93,287.94 247.80,288.34 247.67,288.73 247.53,289.13 247.38,289.53 247.23,289.92 247.08,290.32 246.93,290.71 246.77,291.10 246.60,291.49 246.44,291.89 245.59,291.76 244.75,291.62 243.91,291.47 243.08,291.30 242.84,291.61 242.59,291.90 242.34,292.20 242.08,292.49 241.83,292.79 241.57,293.08 241.31,293.36 241.05,293.65 240.78,293.93 240.51,294.21 240.24,294.49 239.97,294.77 239.69,295.04 239.41,295.31 239.13,295.58 238.85,295.85 238.56,296.11 238.28,296.37 237.99,296.63 237.69,296.88 237.40,297.14 237.10,297.39 236.81,297.64 236.50,297.88 236.20,298.13 235.90,298.37 235.59,298.60 235.28,298.84 234.97,299.07 234.66,299.30 234.34,299.53 234.02,299.75 233.71,299.97 233.38,300.19 233.06,300.41 232.74,300.62 232.41,300.83 232.08,301.04 231.75,301.24 231.42,301.44 231.09,301.64 230.75,301.84 230.41,302.03 230.07,302.22 229.73,302.41 229.39,302.59 229.05,302.77 228.70,302.95 228.36,303.12 228.01,303.30 227.66,303.47 227.31,303.63 226.95,303.79 226.60,303.95 226.24,304.11 225.89,304.26 225.53,304.41 225.17,304.56 224.81,304.70 224.45,304.84 224.08,304.98 223.72,305.12 223.35,305.25 222.99,305.38 222.62,305.50 222.25,305.62 221.88,305.74 221.51,305.86 221.14,305.97 220.77,306.08 220.39,306.18 220.02,306.28 219.64,306.38 219.27,306.48 218.89,306.57 218.51,306.66 218.13,306.75 217.75,306.83 217.37,306.91 216.99,306.98 216.61,307.05 216.23,307.12 215.84,307.19 215.46,307.25 215.08,307.31 214.69,307.37 214.31,307.42 213.92,307.47 213.54,307.51 213.15,307.56 212.77,307.60 212.38,307.63 211.99,307.66 211.60,307.69 211.22,307.72 210.83,307.74 210.44,307.76 210.05,307.77 209.66,307.78 209.28,307.79 208.89,307.80 208.50,307.80 208.11,307.80 207.72,307.79 207.34,307.78 206.95,307.77 206.56,307.76 206.17,307.74 205.78,307.72 205.40,307.69 205.01,307.66 204.62,307.63 204.23,307.60 203.85,307.56 203.46,307.51 203.08,307.47 202.69,307.42 202.31,307.37 201.92,307.31 201.54,307.25 201.16,307.19 200.77,307.12 200.39,307.05 200.01,306.98 199.63,306.91 199.25,306.83 198.87,306.75 198.49,306.66 198.11,306.57 197.73,306.48 197.36,306.38 196.98,306.28 196.61,306.18 196.23,306.08 195.86,305.97 195.49,305.86 195.12,305.74 194.75,305.62 194.38,305.50 194.01,305.38 193.65,305.25 193.28,305.12 192.92,304.98 192.55,304.84 192.19,304.70 191.83,304.56 191.47,304.41 191.11,304.26 190.76,304.11 190.40,303.95 190.05,303.79 189.69,303.63 189.34,303.47 188.99,303.30 188.64,303.12 188.30,302.95 187.95,302.77 187.61,302.59" fill="none" stroke="#222" stroke-width="1.6" stroke-linejoin="round"/>
<path d="M 223.36 249.92 A 20 20 0 0 1 223.36 276.68 L 226.34 279.36 A 24 24 0 0 0 226.34 247.24 Z" fill="none" stroke="#222" stroke-width="1.3" stroke-linejoin="round" />
<path d="M 219.5 261.3 L 226 261.3 L 231 263.3 L 226 265.3 L 219.5 265.3 Q 217.5 263.3 219.5 261.3 Z" fill="none" stroke="#222" stroke-width="1.2" stroke-linejoin="round" />
<path d="M 225 261.6 L 231 263.3 L 225 265.0 Z" fill="#222" stroke="#222" stroke-width="0.8" stroke-linejoin="round" />
<line x1="117.00" y1="263.30" x2="255.00" y2="263.30" stroke="#222" stroke-width="0.8" stroke-dasharray="14,2,2,2"/>
<line x1="208.50" y1="212.00" x2="208.50" y2="347.60" stroke="#222" stroke-width="0.8" stroke-dasharray="14,2,2,2"/>
<line x1="117.00" y1="302.60" x2="145.00" y2="302.60" stroke="#222" stroke-width="0.9"/>
<line x1="120.60" y1="263.30" x2="120.60" y2="302.60" stroke="#222" stroke-width="0.9"/>
<polygon points="120.60,263.30 122.20,272.30 119.00,272.30" fill="#222"/>
<polygon points="120.60,302.60 119.00,293.60 122.20,293.60" fill="#222"/>
<g transform="translate(118.20 282.50) rotate(-90)" font-family='"Liberation Serif", serif' font-size="18.5" fill="#222" stroke="#222" stroke-width="0.45"><text transform="translate(-4.45 0) scale(0.613 1)" text-anchor="middle">H</text><text transform="translate(4.45 0) scale(0.850 1)" text-anchor="middle">6</text></g>
<line x1="144.40" y1="302.00" x2="144.40" y2="347.60" stroke="#222" stroke-width="0.9"/>
<line x1="125.30" y1="342.60" x2="208.50" y2="342.60" stroke="#222" stroke-width="0.9"/>
<polygon points="144.40,342.60 135.40,344.20 135.40,341.00" fill="#222"/>
<polygon points="166.00,342.60 175.00,341.00 175.00,344.20" fill="#222"/>
<polygon points="208.50,342.60 199.50,344.20 199.50,341.00" fill="#222"/>
<g transform="translate(155.50 339.80)" font-family='"Liberation Serif", serif' font-size="18.5" fill="#222" stroke="#222" stroke-width="0.45"><text transform="translate(-4.15 0) scale(0.619 1)" text-anchor="middle">B</text><text transform="translate(4.15 0) scale(0.826 1)" text-anchor="middle">4</text></g>
<g transform="translate(187.60 339.80)" font-family='"Liberation Serif", serif' font-size="18.5" fill="#222" stroke="#222" stroke-width="0.45"><text transform="translate(-4.30 0) scale(0.641 1)" text-anchor="middle">B</text><text transform="translate(4.30 0) scale(0.850 1)" text-anchor="middle">3</text></g>
<g transform="translate(312.60 227.50)" font-family='"Liberation Serif", serif' font-size="18.5" fill="#222" stroke="#222" stroke-width="0.45"><text transform="translate(4.53 0) scale(0.623 1)" text-anchor="middle">A</text><text transform="translate(22.62 0) scale(0.623 1)" text-anchor="middle">V</text><text transform="translate(31.68 0) scale(1.000 1)" text-anchor="middle">i</text><text transform="translate(40.73 0) scale(1.000 1)" text-anchor="middle">e</text><text transform="translate(49.78 0) scale(0.623 1)" text-anchor="middle">w</text></g>
<circle cx="344.00" cy="306.20" r="52.70" fill="none" stroke="#222" stroke-width="1.7"/>
<circle cx="344.00" cy="306.20" r="46.00" fill="none" stroke="#222" stroke-width="1.2" stroke-dasharray="9,4"/>
<circle cx="344.00" cy="306.20" r="41.40" fill="none" stroke="#222" stroke-width="1.6"/>
<circle cx="344.00" cy="306.20" r="35.20" fill="none" stroke="#222" stroke-width="1.6"/>
<circle cx="344.00" cy="306.20" r="21.90" fill="none" stroke="#222" stroke-width="1.6"/>
<circle cx="344.00" cy="306.20" r="11.30" fill="none" stroke="#222" stroke-width="1.6"/>
<circle cx="344.00" cy="306.20" r="3.20" fill="none" stroke="#222" stroke-width="1.1"/>
<circle cx="386.50" cy="288.60" r="3.00" fill="#fff" stroke="#222" stroke-width="1.5"/>
<circle cx="386.50" cy="288.60" r="0.90" fill="#222" stroke="#222" stroke-width="1.0"/>
<circle cx="361.60" cy="263.70" r="3.00" fill="#fff" stroke="#222" stroke-width="1.5"/>
<circle cx="361.60" cy="263.70" r="0.90" fill="#222" stroke="#222" stroke-width="1.0"/>
<circle cx="326.40" cy="263.70" r="3.00" fill="#fff" stroke="#222" stroke-width="1.5"/>
<circle cx="326.40" cy="263.70" r="0.90" fill="#222" stroke="#222" stroke-width="1.0"/>
<circle cx="301.50" cy="288.60" r="3.00" fill="#fff" stroke="#222" stroke-width="1.5"/>
<circle cx="301.50" cy="288.60" r="0.90" fill="#222" stroke="#222" stroke-width="1.0"/>
<circle cx="301.50" cy="323.80" r="3.00" fill="#fff" stroke="#222" stroke-width="1.5"/>
<circle cx="301.50" cy="323.80" r="0.90" fill="#222" stroke="#222" stroke-width="1.0"/>
<circle cx="326.40" cy="348.70" r="3.00" fill="#fff" stroke="#222" stroke-width="1.5"/>
<circle cx="326.40" cy="348.70" r="0.90" fill="#222" stroke="#222" stroke-width="1.0"/>
<circle cx="361.60" cy="348.70" r="3.00" fill="#fff" stroke="#222" stroke-width="1.5"/>
<circle cx="361.60" cy="348.70" r="0.90" fill="#222" stroke="#222" stroke-width="1.0"/>
<circle cx="386.50" cy="323.80" r="3.00" fill="#fff" stroke="#222" stroke-width="1.5"/>
<circle cx="386.50" cy="323.80" r="0.90" fill="#222" stroke="#222" stroke-width="1.0"/>
<line x1="287.00" y1="306.20" x2="401.00" y2="306.20" stroke="#222" stroke-width="0.8" stroke-dasharray="28,3,4,3"/>
<line x1="344.00" y1="246.00" x2="344.00" y2="368.00" stroke="#222" stroke-width="0.8" stroke-dasharray="24,3,4,3"/>
<line x1="312.10" y1="356.30" x2="393.50" y2="229.20" stroke="#222" stroke-width="0.9"/>
<g transform="translate(384.50 240.50) rotate(-57.5)" font-family='"Liberation Serif", serif' font-size="17.5" fill="#222" stroke="#222" stroke-width="0.45"><text transform="translate(-8.30 0) scale(0.829 1)" text-anchor="middle">ϕ</text><text transform="translate(0.00 0) scale(0.873 1)" text-anchor="middle">d</text><text transform="translate(8.30 0) scale(0.873 1)" text-anchor="middle">6</text></g>
<path d="M 276.00 306.20 A 68 68 0 0 1 281.18 280.18" fill="none" stroke="#222" stroke-width="0.9" stroke-linejoin="round" />
<path d="M 281.18 280.18 A 68 68 0 0 1 317.98 243.38" fill="none" stroke="#222" stroke-width="0.9" stroke-linejoin="round" />
<line x1="298.73" y1="287.45" x2="277.02" y2="278.46" stroke="#222" stroke-width="0.9"/>
<line x1="325.25" y1="260.93" x2="316.64" y2="240.14" stroke="#222" stroke-width="0.9"/>
<line x1="274.00" y1="306.20" x2="290.00" y2="306.20" stroke="#222" stroke-width="0.9"/>
<polygon points="276.00,306.20 274.40,297.20 277.60,297.20" fill="#222"/>
<polygon points="281.18,280.18 279.21,289.10 276.25,287.88" fill="#222"/>
<polygon points="281.18,280.18 283.14,271.25 286.10,272.47" fill="#222"/>
<polygon points="317.98,243.38 310.27,248.30 309.05,245.34" fill="#222"/>
<g transform="translate(294.50 256.50) rotate(-52)" font-family='"Liberation Serif", serif' font-size="17" fill="#222" stroke="#222" stroke-width="0.45"><text transform="translate(-7.40 0) scale(0.801 1)" text-anchor="middle">4</text><text transform="translate(0.00 0) scale(0.801 1)" text-anchor="middle">5</text><text transform="translate(7.40 0) scale(0.850 1)" text-anchor="middle">°</text></g>
<g transform="translate(274.20 290.50) rotate(-78)" font-family='"Liberation Serif", serif' font-size="16.5" fill="#222" stroke="#222" stroke-width="0.45"><text transform="translate(-12.80 0) scale(0.714 1)" text-anchor="middle">2</text><text transform="translate(-6.40 0) scale(0.714 1)" text-anchor="middle">2</text><text transform="translate(0.00 0) scale(0.850 1)" text-anchor="middle">.</text><text transform="translate(6.40 0) scale(0.714 1)" text-anchor="middle">5</text><text transform="translate(12.80 0) scale(0.850 1)" text-anchor="middle">°</text></g>
<line x1="288.60" y1="311.50" x2="298.40" y2="381.60" stroke="#222" stroke-width="0.9"/>
<polygon points="288.60,311.00 291.44,319.69 288.27,320.14" fill="#222"/>
<line x1="298.40" y1="381.60" x2="382.00" y2="381.60" stroke="#222" stroke-width="0.9"/>
<g transform="translate(310.30 377.40)" font-family='"Liberation Serif", serif' font-size="12" fill="#222" stroke="#222" stroke-width="0.3"><text transform="translate(2.99 0) scale(0.941 1)" text-anchor="middle">P</text><text transform="translate(8.97 0) scale(1.000 1)" text-anchor="middle">a</text><text transform="translate(14.95 0) scale(1.000 1)" text-anchor="middle">r</text><text transform="translate(20.93 0) scale(1.000 1)" text-anchor="middle">a</text><text transform="translate(26.91 0) scale(1.000 1)" text-anchor="middle">l</text><text transform="translate(32.89 0) scale(1.000 1)" text-anchor="middle">l</text><text transform="translate(38.87 0) scale(1.000 1)" text-anchor="middle">e</text><text transform="translate(44.85 0) scale(1.000 1)" text-anchor="middle">l</text><text transform="translate(56.81 0) scale(1.000 1)" text-anchor="middle">t</text><text transform="translate(62.79 0) scale(1.000 1)" text-anchor="middle">o</text></g>
<g transform="translate(310.00 391.90)" font-family='"Liberation Serif", serif' font-size="12" fill="#222" stroke="#222" stroke-width="0.3"><text transform="translate(2.98 0) scale(0.669 1)" text-anchor="middle">m</text><text transform="translate(8.93 0) scale(1.000 1)" text-anchor="middle">o</text><text transform="translate(14.88 0) scale(1.000 1)" text-anchor="middle">t</text><text transform="translate(20.82 0) scale(1.000 1)" text-anchor="middle">o</text><text transform="translate(26.78 0) scale(1.000 1)" text-anchor="middle">r</text><text transform="translate(38.68 0) scale(1.000 1)" text-anchor="middle">a</text><text transform="translate(44.62 0) scale(1.000 1)" text-anchor="middle">x</text><text transform="translate(50.58 0) scale(1.000 1)" text-anchor="middle">i</text><text transform="translate(56.52 0) scale(1.000 1)" text-anchor="middle">s</text></g>
<line x1="375.30" y1="312.20" x2="417.50" y2="355.30" stroke="#222" stroke-width="0.9"/>
<polygon points="384.20,321.30 376.70,316.07 378.97,313.80" fill="#222"/>
<polygon points="389.40,326.50 396.90,331.73 394.63,334.00" fill="#222"/>
<g transform="translate(410.30 343.30) rotate(45)" font-family='"Liberation Serif", serif' font-size="15.5" fill="#222" stroke="#222" stroke-width="0.45"><text transform="translate(-11.10 0) scale(0.850 1)" text-anchor="middle">n</text><text transform="translate(-3.70 0) scale(0.850 1)" text-anchor="middle">-</text><text transform="translate(3.70 0) scale(0.850 1)" text-anchor="middle">d</text><text transform="translate(11.10 0) scale(0.850 1)" text-anchor="middle">5</text></g>
<g transform="translate(421.60 266.50)" font-family='"Liberation Serif", serif' font-size="18.5" fill="#222" stroke="#222" stroke-width="0.45"><text transform="translate(4.58 0) scale(0.682 1)" text-anchor="middle">B</text><text transform="translate(22.88 0) scale(0.630 1)" text-anchor="middle">V</text><text transform="translate(32.02 0) scale(1.000 1)" text-anchor="middle">i</text><text transform="translate(41.18 0) scale(1.000 1)" text-anchor="middle">e</text><text transform="translate(50.33 0) scale(0.630 1)" text-anchor="middle">w</text></g>
<g transform="translate(446.30 281.60)" font-family='"Liberation Serif", serif' font-size="14" fill="#222" stroke="#222" stroke-width="0.45"><text transform="translate(-3.15 0) scale(0.828 1)" text-anchor="middle">9</text><text transform="translate(3.15 0) scale(0.828 1)" text-anchor="middle">0</text></g>
<line x1="432.50" y1="279.50" x2="432.50" y2="318.00" stroke="#222" stroke-width="0.9"/>
<line x1="461.30" y1="279.50" x2="461.30" y2="318.00" stroke="#222" stroke-width="0.9"/>
<line x1="432.50" y1="283.00" x2="461.30" y2="283.00" stroke="#222" stroke-width="0.9"/>
<polygon points="432.50,283.00 441.50,281.40 441.50,284.60" fill="#222"/>
<polygon points="461.30,283.00 452.30,284.60 452.30,281.40" fill="#222"/>
<rect x="418.00" y="293.60" width="57.50" height="28.70" rx="2.5" fill="none" stroke="#222" stroke-width="1.7"/>
<line x1="418.00" y1="308.10" x2="475.50" y2="308.10" stroke="#222" stroke-width="0.9"/>
<circle cx="432.50" cy="308.10" r="6.50" fill="none" stroke="#222" stroke-width="1.6"/>
<circle cx="461.30" cy="308.10" r="6.50" fill="none" stroke="#222" stroke-width="1.6"/>
<line x1="445.40" y1="297.50" x2="491.40" y2="328.80" stroke="#222" stroke-width="0.9"/>
<polygon points="456.50,304.80 448.11,301.17 449.88,298.50" fill="#222"/>
<polygon points="466.50,311.50 474.89,315.13 473.12,317.80" fill="#222"/>
<line x1="491.40" y1="328.80" x2="535.00" y2="328.80" stroke="#222" stroke-width="1.1"/>
<g transform="translate(490.50 327.20)" font-family='"Liberation Serif", serif' font-size="18.5" fill="#222" stroke="#222" stroke-width="0.45"><text transform="translate(4.35 0) scale(0.850 1)" text-anchor="middle">2</text><text transform="translate(13.05 0) scale(0.850 1)" text-anchor="middle">-</text><text transform="translate(21.75 0) scale(0.599 1)" text-anchor="middle">G</text><text transform="translate(30.45 0) scale(0.850 1)" text-anchor="middle">1</text><text transform="translate(39.15 0) scale(0.850 1)" text-anchor="middle">"</text></g>
<defs><pattern id="hat" patternUnits="userSpaceOnUse" width="2.4" height="2.4" patternTransform="rotate(45)"><rect width="2.4" height="2.4" fill="#fff"/><line x1="0.6" y1="0" x2="0.6" y2="2.4" stroke="#222" stroke-width="1.0"/></pattern></defs>
<line x1="531.30" y1="62.50" x2="531.30" y2="98.50" stroke="#222" stroke-width="0.9"/>
<line x1="706.80" y1="62.50" x2="706.80" y2="161.30" stroke="#222" stroke-width="0.9"/>
<line x1="531.30" y1="67.80" x2="706.80" y2="67.80" stroke="#222" stroke-width="0.9"/>
<polygon points="531.30,67.80 540.30,66.20 540.30,69.40" fill="#222"/>
<polygon points="706.80,67.80 697.80,69.40 697.80,66.20" fill="#222"/>
<g transform="translate(619.00 64.40)" font-family='"Liberation Serif", serif' font-size="18.5" fill="#222" stroke="#222" stroke-width="0.45"><text transform="translate(0.00 0) scale(0.634 1)" text-anchor="middle">B</text></g>
<line x1="531.30" y1="90.40" x2="706.80" y2="90.40" stroke="#222" stroke-width="0.9"/>
<polygon points="531.30,90.40 540.30,88.80 540.30,92.00" fill="#222"/>
<polygon points="615.80,90.40 606.80,92.00 606.80,88.80" fill="#222"/>
<polygon points="615.80,90.40 624.80,88.80 624.80,92.00" fill="#222"/>
<polygon points="706.80,90.40 697.80,92.00 697.80,88.80" fill="#222"/>
<line x1="615.80" y1="85.00" x2="615.80" y2="141.00" stroke="#222" stroke-width="0.9"/>
<g transform="translate(574.20 87.20)" font-family='"Liberation Serif", serif' font-size="18.5" fill="#222" stroke="#222" stroke-width="0.45"><text transform="translate(-4.10 0) scale(0.668 1)" text-anchor="middle">L</text><text transform="translate(4.10 0) scale(0.816 1)" text-anchor="middle">2</text></g>
<g transform="translate(662.00 87.20)" font-family='"Liberation Serif", serif' font-size="18.5" fill="#222" stroke="#222" stroke-width="0.45"><text transform="translate(-4.00 0) scale(0.651 1)" text-anchor="middle">L</text><text transform="translate(4.00 0) scale(0.796 1)" text-anchor="middle">1</text></g>
<g transform="translate(508.50 114.70)" font-family='"Liberation Serif", serif' font-size="18.5" fill="#222" stroke="#222" stroke-width="0.45"><text transform="translate(0.00 0) scale(0.611 1)" text-anchor="middle">B</text></g>
<line x1="500.00" y1="117.00" x2="519.00" y2="117.00" stroke="#222" stroke-width="0.9"/>
<polygon points="521.00,117.00 512.00,118.60 512.00,115.40" fill="#222"/>
<g transform="translate(608.30 114.00)" font-family='"Liberation Serif", serif' font-size="18.5" fill="#222" stroke="#222" stroke-width="0.45"><text transform="translate(-4.08 0) scale(0.561 1)" text-anchor="middle">A</text><text transform="translate(4.08 0) scale(0.811 1)" text-anchor="middle">1</text></g>
<line x1="587.00" y1="115.80" x2="636.00" y2="115.80" stroke="#222" stroke-width="0.9"/>
<polygon points="599.50,115.80 590.50,117.40 590.50,114.20" fill="#222"/>
<polygon points="615.80,115.80 624.80,114.20 624.80,117.40" fill="#222"/>
<line x1="599.50" y1="111.00" x2="599.50" y2="205.00" stroke="#222" stroke-width="0.8" stroke-dasharray="8,2,1.5,2"/>
<line x1="616.80" y1="123.50" x2="717.70" y2="123.50" stroke="#222" stroke-width="0.9"/>
<line x1="713.40" y1="123.50" x2="713.40" y2="303.20" stroke="#222" stroke-width="0.9"/>
<polygon points="713.40,123.50 715.00,132.50 711.80,132.50" fill="#222"/>
<polygon points="713.40,303.20 711.80,294.20 715.00,294.20" fill="#222"/>
<g transform="translate(709.60 229.20) rotate(-90)" font-family='"Liberation Serif", serif' font-size="18.5" fill="#222" stroke="#222" stroke-width="0.45"><text transform="translate(0.00 0) scale(0.620 1)" text-anchor="middle">H</text></g>
<line x1="670.80" y1="161.30" x2="707.00" y2="161.30" stroke="#222" stroke-width="0.9"/>
<line x1="659.50" y1="185.30" x2="701.00" y2="185.30" stroke="#222" stroke-width="1.3"/>
<line x1="675.80" y1="161.30" x2="675.80" y2="250.90" stroke="#222" stroke-width="0.9"/>
<polygon points="675.80,161.30 677.40,170.30 674.20,170.30" fill="#222"/>
<polygon points="675.80,185.30 674.20,176.30 677.40,176.30" fill="#222"/>
<polygon points="675.80,193.00 677.40,202.00 674.20,202.00" fill="#222"/>
<polygon points="675.80,250.90 674.20,241.90 677.40,241.90" fill="#222"/>
<line x1="638.30" y1="192.90" x2="680.90" y2="192.90" stroke="#222" stroke-width="0.9"/>
<line x1="649.80" y1="250.90" x2="680.90" y2="250.90" stroke="#222" stroke-width="0.9"/>
<g transform="translate(672.80 223.80) rotate(-90)" font-family='"Liberation Serif", serif' font-size="18.5" fill="#222" stroke="#222" stroke-width="0.45"><text transform="translate(-4.00 0) scale(0.551 1)" text-anchor="middle">H</text><text transform="translate(4.00 0) scale(0.796 1)" text-anchor="middle">1</text></g>
<line x1="515.50" y1="165.00" x2="537.00" y2="165.00" stroke="#222" stroke-width="0.9"/>
<line x1="515.50" y1="193.00" x2="650.00" y2="193.00" stroke="#222" stroke-width="0.9"/>
<line x1="519.60" y1="165.00" x2="519.60" y2="193.00" stroke="#222" stroke-width="0.9"/>
<polygon points="519.60,165.00 521.20,174.00 518.00,174.00" fill="#222"/>
<polygon points="519.60,193.00 518.00,184.00 521.20,184.00" fill="#222"/>
<g transform="translate(517.40 179.00) rotate(-90)" font-family='"Liberation Serif", serif' font-size="18.5" fill="#222" stroke="#222" stroke-width="0.45"><text transform="translate(-4.45 0) scale(0.613 1)" text-anchor="middle">H</text><text transform="translate(4.45 0) scale(0.850 1)" text-anchor="middle">3</text></g>
<line x1="508.80" y1="205.40" x2="584.00" y2="205.40" stroke="#222" stroke-width="0.9"/>
<line x1="508.00" y1="304.00" x2="717.70" y2="304.00" stroke="#222" stroke-width="0.9"/>
<line x1="512.10" y1="205.40" x2="512.10" y2="304.00" stroke="#222" stroke-width="0.9"/>
<polygon points="512.10,205.40 513.70,214.40 510.50,214.40" fill="#222"/>
<polygon points="512.10,304.00 510.50,295.00 513.70,295.00" fill="#222"/>
<g transform="translate(511.00 255.70) rotate(-90)" font-family='"Liberation Serif", serif' font-size="19" fill="#222" stroke="#222" stroke-width="0.45"><text transform="translate(-8.80 0) scale(0.810 1)" text-anchor="middle">ϕ</text><text transform="translate(0.00 0) scale(0.590 1)" text-anchor="middle">D</text><text transform="translate(8.80 0) scale(0.852 1)" text-anchor="middle">1</text></g>
<line x1="526.50" y1="215.50" x2="584.00" y2="215.50" stroke="#222" stroke-width="0.9"/>
<line x1="526.50" y1="293.40" x2="584.00" y2="293.40" stroke="#222" stroke-width="0.9"/>
<line x1="531.00" y1="215.50" x2="531.00" y2="293.40" stroke="#222" stroke-width="0.9"/>
<polygon points="531.00,215.50 532.60,224.50 529.40,224.50" fill="#222"/>
<polygon points="531.00,293.40 529.40,284.40 532.60,284.40" fill="#222"/>
<g transform="translate(529.80 253.00) rotate(-90)" font-family='"Liberation Serif", serif' font-size="19" fill="#222" stroke="#222" stroke-width="0.45"><text transform="translate(-9.20 0) scale(0.846 1)" text-anchor="middle">ϕ</text><text transform="translate(0.00 0) scale(0.891 1)" text-anchor="middle">d</text><text transform="translate(9.20 0) scale(0.891 1)" text-anchor="middle">2</text></g>
<line x1="545.30" y1="234.80" x2="584.00" y2="234.80" stroke="#222" stroke-width="0.9"/>
<line x1="545.30" y1="274.60" x2="584.00" y2="274.60" stroke="#222" stroke-width="0.9"/>
<line x1="549.70" y1="234.80" x2="549.70" y2="274.60" stroke="#222" stroke-width="0.9"/>
<polygon points="549.70,234.80 551.30,243.80 548.10,243.80" fill="#222"/>
<polygon points="549.70,274.60 548.10,265.60 551.30,265.60" fill="#222"/>
<g transform="translate(548.60 255.20) rotate(-90)" font-family='"Liberation Serif", serif' font-size="19" fill="#222" stroke="#222" stroke-width="0.45"><text transform="translate(-9.20 0) scale(0.846 1)" text-anchor="middle">ϕ</text><text transform="translate(0.00 0) scale(0.891 1)" text-anchor="middle">d</text><text transform="translate(9.20 0) scale(0.891 1)" text-anchor="middle">3</text></g>
<line x1="556.60" y1="232.60" x2="556.60" y2="395.00" stroke="#222" stroke-width="0.9"/>
<line x1="552.00" y1="251.40" x2="584.00" y2="251.40" stroke="#222" stroke-width="0.9"/>
<line x1="552.00" y1="257.50" x2="584.00" y2="257.50" stroke="#222" stroke-width="0.9"/>
<polygon points="556.60,251.40 555.00,242.40 558.20,242.40" fill="#222"/>
<polygon points="556.60,257.50 558.20,266.50 555.00,266.50" fill="#222"/>
<g transform="translate(554.00 365.00) rotate(-90)" font-family='"Liberation Serif", serif' font-size="18.5" fill="#222" stroke="#222" stroke-width="0.45"><text transform="translate(-23.25 0) scale(0.879 1)" text-anchor="middle">ϕ</text><text transform="translate(-13.95 0) scale(0.900 1)" text-anchor="middle">d</text><text transform="translate(-4.65 0) scale(0.900 1)" text-anchor="middle">4</text><text transform="translate(4.65 0) scale(0.595 1)" text-anchor="middle">m</text><text transform="translate(13.95 0) scale(0.900 1)" text-anchor="middle">a</text><text transform="translate(23.25 0) scale(0.900 1)" text-anchor="middle">x</text></g>
<line x1="585.00" y1="304.00" x2="585.00" y2="394.00" stroke="#222" stroke-width="0.9"/>
<line x1="591.00" y1="304.00" x2="591.00" y2="337.00" stroke="#222" stroke-width="0.9"/>
<line x1="556.60" y1="318.40" x2="600.00" y2="318.40" stroke="#222" stroke-width="0.9"/>
<polygon points="585.00,318.40 576.00,320.00 576.00,316.80" fill="#222"/>
<polygon points="591.00,318.40 600.00,316.80 600.00,320.00" fill="#222"/>
<g transform="translate(564.00 316.40)" font-family='"Liberation Serif", serif' font-size="14.5" fill="#222" stroke="#222" stroke-width="0.45"><text transform="translate(-3.10 0) scale(0.787 1)" text-anchor="middle">h</text><text transform="translate(3.10 0) scale(0.787 1)" text-anchor="middle">1</text></g>
<line x1="556.60" y1="333.00" x2="604.00" y2="333.00" stroke="#222" stroke-width="0.9"/>
<polygon points="585.00,333.00 576.00,334.60 576.00,331.40" fill="#222"/>
<polygon points="591.00,333.00 600.00,331.40 600.00,334.60" fill="#222"/>
<g transform="translate(564.00 331.00)" font-family='"Liberation Serif", serif' font-size="14.5" fill="#222" stroke="#222" stroke-width="0.45"><text transform="translate(-3.10 0) scale(0.787 1)" text-anchor="middle">h</text><text transform="translate(3.10 0) scale(0.787 1)" text-anchor="middle">2</text></g>
<line x1="616.00" y1="300.00" x2="616.00" y2="358.00" stroke="#222" stroke-width="0.9"/>
<line x1="585.00" y1="354.40" x2="616.00" y2="354.40" stroke="#222" stroke-width="0.9"/>
<polygon points="585.00,354.40 594.00,352.80 594.00,356.00" fill="#222"/>
<polygon points="616.00,354.40 607.00,356.00 607.00,352.80" fill="#222"/>
<g transform="translate(600.50 351.00)" font-family='"Liberation Serif", serif' font-size="18.5" fill="#222" stroke="#222" stroke-width="0.45"><text transform="translate(-4.25 0) scale(0.845 1)" text-anchor="middle">h</text><text transform="translate(4.25 0) scale(0.845 1)" text-anchor="middle">3</text></g>
<line x1="620.00" y1="300.00" x2="620.00" y2="380.00" stroke="#222" stroke-width="0.9"/>
<line x1="585.00" y1="375.00" x2="620.00" y2="375.00" stroke="#222" stroke-width="0.9"/>
<polygon points="585.00,375.00 594.00,373.40 594.00,376.60" fill="#222"/>
<polygon points="620.00,375.00 611.00,376.60 611.00,373.40" fill="#222"/>
<g transform="translate(601.00 372.00)" font-family='"Liberation Serif", serif' font-size="18.5" fill="#222" stroke="#222" stroke-width="0.45"><text transform="translate(-4.00 0) scale(0.596 1)" text-anchor="middle">B</text><text transform="translate(4.00 0) scale(0.796 1)" text-anchor="middle">1</text></g>
<line x1="648.00" y1="272.00" x2="648.00" y2="394.00" stroke="#222" stroke-width="0.9"/>
<line x1="585.00" y1="389.40" x2="648.00" y2="389.40" stroke="#222" stroke-width="0.9"/>
<polygon points="585.00,389.40 594.00,387.80 594.00,391.00" fill="#222"/>
<polygon points="648.00,389.40 639.00,391.00 639.00,387.80" fill="#222"/>
<g transform="translate(635.00 387.00)" font-family='"Liberation Serif", serif' font-size="18.5" fill="#222" stroke="#222" stroke-width="0.45"><text transform="translate(-4.00 0) scale(0.596 1)" text-anchor="middle">B</text><text transform="translate(4.00 0) scale(0.796 1)" text-anchor="middle">2</text></g>
<rect x="532.80" y="98.20" width="52.60" height="5.80" rx="0" fill="none" stroke="#222" stroke-width="1.5"/>
<rect x="531.80" y="104.00" width="48.70" height="23.00" rx="0" fill="none" stroke="#222" stroke-width="1.5"/>
<line x1="548.40" y1="104.00" x2="548.40" y2="127.00" stroke="#222" stroke-width="1.1"/>
<line x1="571.80" y1="104.00" x2="571.80" y2="127.00" stroke="#222" stroke-width="1.1"/>
<line x1="580.50" y1="114.00" x2="590.00" y2="114.00" stroke="#222" stroke-width="1.0"/>
<path d="M 538.6 127 L 538.6 133 L 542 136.8 L 572 136.8 L 575.6 133 L 575.6 127" fill="none" stroke="#222" stroke-width="1.4" stroke-linejoin="round" />
<line x1="540.00" y1="130.00" x2="574.00" y2="130.00" stroke="#222" stroke-width="0.9"/>
<rect x="536.70" y="141.60" width="7.80" height="47.80" rx="0" fill="none" stroke="#222" stroke-width="1.5"/>
<line x1="541.30" y1="141.60" x2="541.30" y2="189.40" stroke="#222" stroke-width="0.9"/>
<rect x="544.50" y="142.80" width="5.00" height="46.60" rx="0" fill="none" stroke="#222" stroke-width="1.2"/>
<ellipse cx="561" cy="180" rx="10.5" ry="8.2" fill="none" stroke="#222" stroke-width="1.2"/>
<ellipse cx="561" cy="159.5" rx="11" ry="13.5" fill="#fff" stroke="#222" stroke-width="2.5"/>
<circle cx="557.50" cy="155.00" r="2.20" fill="none" stroke="#222" stroke-width="1.1"/>
<circle cx="555.00" cy="163.00" r="1.50" fill="none" stroke="#222" stroke-width="1.0"/>
<path d="M 553 168 L 560 166 L 566 170" fill="none" stroke="#222" stroke-width="1.1" stroke-linejoin="round" />
<rect x="575.00" y="144.30" width="53.00" height="21.70" rx="0" fill="none" stroke="#222" stroke-width="1.4"/>
<line x1="575.00" y1="149.50" x2="628.00" y2="149.50" stroke="#222" stroke-width="1.1"/>
<rect x="580.00" y="166.00" width="45.00" height="27.00" rx="0" fill="none" stroke="#222" stroke-width="1.3"/>
<line x1="563.00" y1="139.50" x2="628.00" y2="139.50" stroke="#222" stroke-width="1.1"/>
<path d="M 582 178 Q 582 170 590 170" fill="none" stroke="#222" stroke-width="1.1" stroke-linejoin="round" />
<circle cx="590.00" cy="184.00" r="1.80" fill="none" stroke="#222" stroke-width="1.0"/>
<circle cx="614.00" cy="184.00" r="1.80" fill="none" stroke="#222" stroke-width="1.0"/>
<path d="M 611 168 L 617 168 L 619 176 L 617 182 L 611 182 Z" fill="none" stroke="#222" stroke-width="1.2" stroke-linejoin="round" />
<circle cx="613.50" cy="176.00" r="1.20" fill="#222" stroke="#222" stroke-width="1.0"/>
<path d="M 636.5 134.8 L 659 134.8 L 659 185.3 Q 658 187.6 655 187.6 L 633.6 187.6 L 633.6 137.8 Q 633.6 134.8 636.5 134.8 Z" fill="none" stroke="#222" stroke-width="1.5" stroke-linejoin="round" />
<line x1="655.00" y1="134.80" x2="655.00" y2="187.60" stroke="#222" stroke-width="1.3"/>
<line x1="633.60" y1="165.50" x2="655.00" y2="165.50" stroke="#222" stroke-width="1.3"/>
<line x1="633.60" y1="183.20" x2="655.00" y2="183.20" stroke="#222" stroke-width="1.1"/>
<path d="M 636.3 141.9 Q 639 139.8 642.5 140.4 Q 646.5 141.5 647.5 145 Q 648.7 150 648.7 154.2 Q 648.5 156 647 156.5" fill="none" stroke="#222" stroke-width="1.4" stroke-linejoin="round" />
<path d="M 659 136.5 L 697.5 136.5 Q 701.8 136.5 701.8 140.8 L 701.8 163" fill="none" stroke="#222" stroke-width="1.5" stroke-linejoin="round" />
<rect x="700.90" y="163.00" width="6.10" height="22.30" rx="0" fill="none" stroke="#222" stroke-width="1.3"/>
<path d="M 660.4 170.4 L 672.7 173.5" fill="none" stroke="#222" stroke-width="1.2" stroke-linejoin="round" />
<rect x="660.50" y="179.50" width="12.00" height="4.00" rx="0" fill="none" stroke="#222" stroke-width="1.1"/>
<circle cx="599.50" cy="162.00" r="38.00" fill="none" stroke="#222" stroke-width="1.7"/>
<circle cx="599.50" cy="162.00" r="32.30" fill="none" stroke="#222" stroke-width="1.7"/>
<rect x="567.50" y="158.60" width="64.00" height="6.70" rx="0" fill="#fff" stroke="#222" stroke-width="1.3"/>
<rect x="595.90" y="130.00" width="7.80" height="64.00" rx="0" fill="#fff" stroke="#222" stroke-width="1.3"/>
<line x1="599.50" y1="130.00" x2="599.50" y2="194.00" stroke="#222" stroke-width="0.8" stroke-dasharray="5,2"/>
<circle cx="599.50" cy="162.00" r="6.00" fill="#fff" stroke="#222" stroke-width="1.5"/>
<circle cx="599.50" cy="162.00" r="3.30" fill="none" stroke="#222" stroke-width="1.1"/>
<circle cx="599.50" cy="197.00" r="3.60" fill="#fff" stroke="#222" stroke-width="1.4"/>
<line x1="599.50" y1="193.40" x2="599.50" y2="200.60" stroke="#222" stroke-width="0.9"/>
<rect x="601.70" y="200.00" width="7.00" height="12.30" rx="0" fill="none" stroke="#222" stroke-width="1.3"/>
<rect x="623.00" y="193.50" width="7.00" height="18.80" rx="0" fill="none" stroke="#222" stroke-width="1.3"/>
<rect x="594.40" y="212.30" width="42.80" height="5.10" rx="0" fill="none" stroke="#222" stroke-width="1.4"/>
<rect x="595.40" y="217.40" width="44.90" height="74.30" rx="0" fill="none" stroke="#222" stroke-width="1.5"/>
<rect x="640.30" y="217.40" width="4.10" height="74.30" rx="0" fill="none" stroke="#222" stroke-width="1.2"/>
<rect x="646.40" y="235.80" width="2.50" height="37.80" rx="0" fill="#222" stroke="#222" stroke-width="1.0"/>
<rect x="595.40" y="293.00" width="40.80" height="6.20" rx="0" fill="none" stroke="#222" stroke-width="1.4"/>
<line x1="616.80" y1="200.00" x2="616.80" y2="303.00" stroke="#222" stroke-width="0.8" stroke-dasharray="10,2,1.5,2"/>
<rect x="584.20" y="205.20" width="6.10" height="98.80" rx="0" fill="none" stroke="#222" stroke-width="1.4"/>
<path d="M 590.3 214.3 L 596.4 219.4 L 596.4 235 L 617 235 L 617 239 L 590.3 239 Z" fill="url(#hat)" stroke="#222" stroke-width="1.2" stroke-linejoin="round" />
<path d="M 590.3 272 L 617 272 L 617 268 L 611 268 L 611 281 L 602.5 281 L 602.5 272 L 596.4 272 L 596.4 288 L 590.3 294 Z" fill="url(#hat)" stroke="#222" stroke-width="1.2" stroke-linejoin="round" />
<path d="M 590.3 288 L 596.4 288 L 590.3 298 Z" fill="url(#hat)" stroke="#222" stroke-width="1.0" stroke-linejoin="round" />
<rect x="584.20" y="239.00" width="34.70" height="11.50" rx="0" fill="url(#hat)" stroke="#222" stroke-width="1.2"/>
<rect x="584.20" y="258.00" width="34.70" height="13.50" rx="0" fill="url(#hat)" stroke="#222" stroke-width="1.2"/>
<line x1="584.20" y1="254.50" x2="618.90" y2="254.50" stroke="#222" stroke-width="0.9"/>
<path d="M 596.4 219.4 Q 612 222 617.5 234 Q 620 250 618 262 Q 616 277 596.4 288" fill="none" stroke="#222" stroke-width="1.2" stroke-linejoin="round" />
<line x1="570.00" y1="254.70" x2="650.00" y2="254.70" stroke="#222" stroke-width="0.8" stroke-dasharray="14,2,2,2"/>
<g transform="translate(480.00 237.60)" font-family='"Liberation Serif", serif' font-size="18" fill="#222" stroke="#222" stroke-width="0.45"><text transform="translate(0.00 0) scale(0.637 1)" text-anchor="middle">A</text></g>
<line x1="471.10" y1="242.60" x2="484.00" y2="242.60" stroke="#222" stroke-width="0.9"/>
<polygon points="489.40,242.60 482.40,244.00 482.40,241.20" fill="#222"/></svg>
</body></html>
